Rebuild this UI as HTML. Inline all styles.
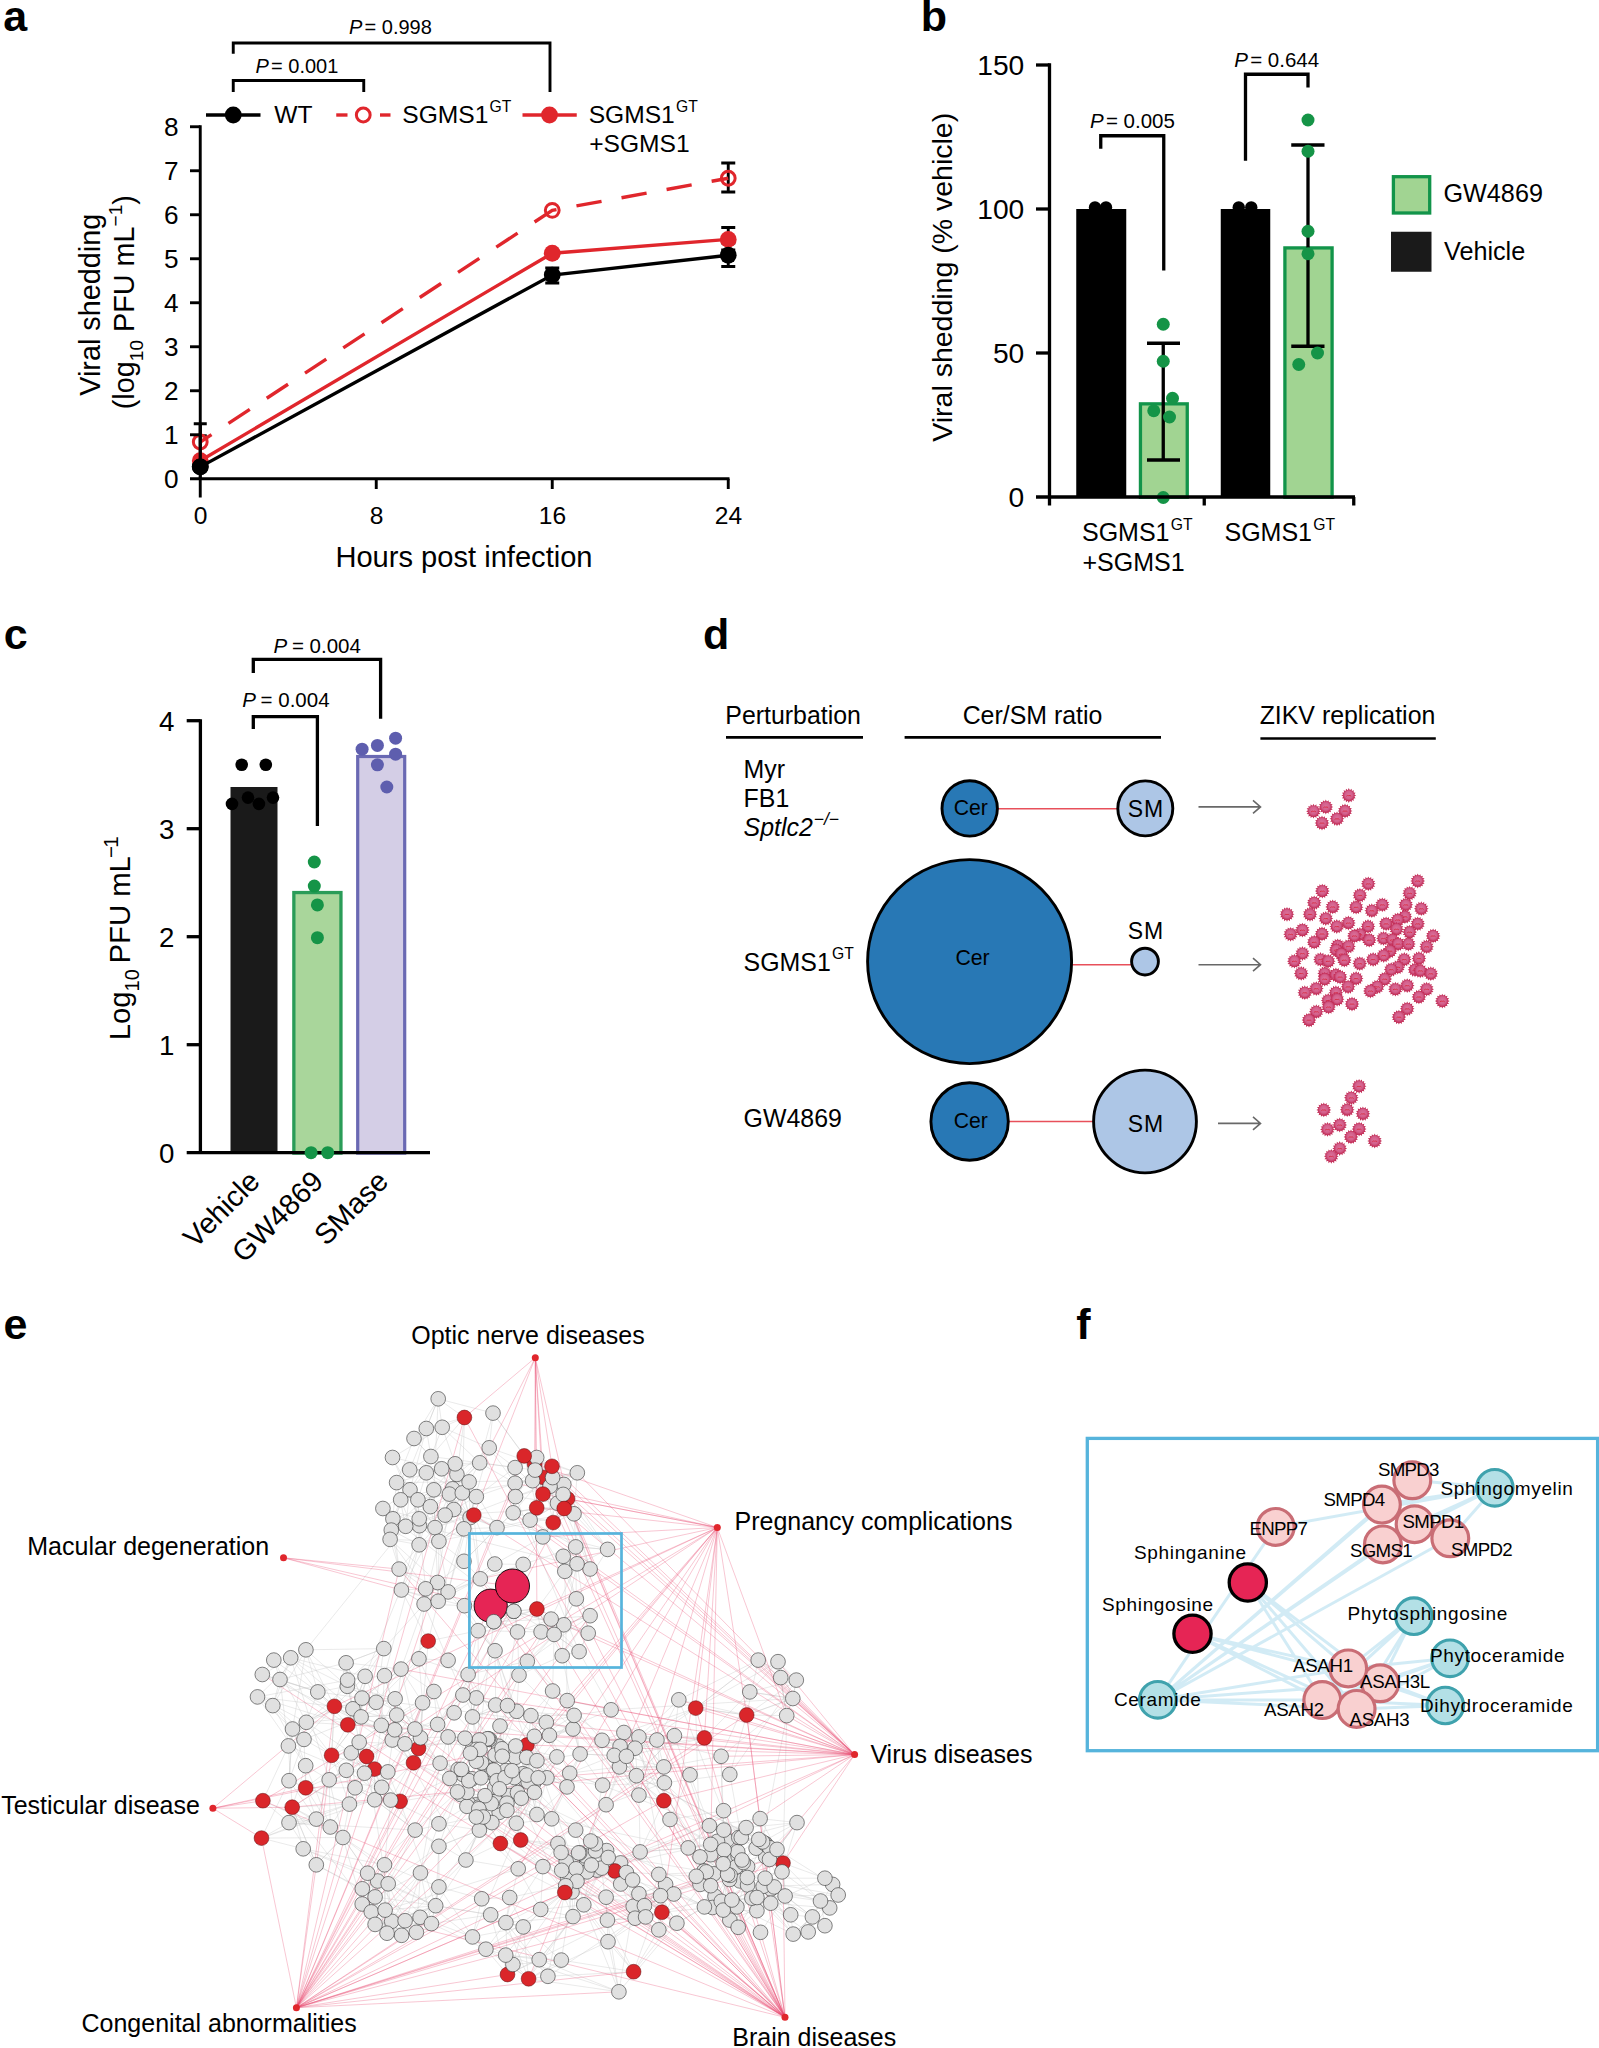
<!DOCTYPE html>
<html><head><meta charset="utf-8"><title>Figure</title>
<style>html,body{margin:0;padding:0;background:#fff}svg{display:block}text{font-family:"Liberation Sans",sans-serif}</style></head><body>
<svg width="1599" height="2048" viewBox="0 0 1599 2048">
<defs><radialGradient id="vg" cx="50%" cy="45%" r="55%"><stop offset="0" stop-color="#da729b"/><stop offset="0.58" stop-color="#d35f8b"/><stop offset="1" stop-color="#c12a54"/></radialGradient>
<g id="v"><polygon points="7.40,0.00 5.30,1.05 6.84,2.83 4.49,3.00 5.23,5.23 3.00,4.49 2.83,6.84 1.05,5.30 0.00,7.40 -1.05,5.30 -2.83,6.84 -3.00,4.49 -5.23,5.23 -4.49,3.00 -6.84,2.83 -5.30,1.05 -7.40,0.00 -5.30,-1.05 -6.84,-2.83 -4.49,-3.00 -5.23,-5.23 -3.00,-4.49 -2.83,-6.84 -1.05,-5.30 -0.00,-7.40 1.05,-5.30 2.83,-6.84 3.00,-4.49 5.23,-5.23 4.49,-3.00 6.84,-2.83 5.30,-1.05" fill="#c32d57"/><circle r="5.75" fill="url(#vg)"/><path d="M-2.4 0.7Q-1.2 -0.5 0 0.2Q1.2 -0.5 2.4 0.7" stroke="#d8283f" stroke-width="0.9" fill="none"/></g></defs>
<rect width="1599" height="2048" fill="#fff"/>
<text x="3.3" y="30.8" font-size="43" font-weight="bold">a</text>
<text x="920.8" y="30.6" font-size="43" font-weight="bold">b</text>
<text x="3.8" y="648.8" font-size="43" font-weight="bold">c</text>
<text x="703" y="648.6" font-size="43" font-weight="bold">d</text>
<text x="3.5" y="1339.3" font-size="43" font-weight="bold">e</text>
<text x="1076.3" y="1338.9" font-size="43" font-weight="bold">f</text>
<g id="pa">
<path d="M721.25 163H735.25M721.25 192H735.25M728.25 163V192" stroke="#000" stroke-width="2.9" fill="none" />
<path d="M721.25 227.5H735.25M721.25 250H735.25M728.25 227.5V250" stroke="#000" stroke-width="2.9" fill="none" />
<path d="M721.25 243H735.25M721.25 266.5H735.25M728.25 243V266.5" stroke="#000" stroke-width="2.9" fill="none" />
<path d="M545.25 268H559.25M545.25 283H559.25M552.25 268V283" stroke="#000" stroke-width="2.9" fill="none" />
<path d="M193.75 423.75H206.75M193.75 470H206.75M200.25 423.75V470" stroke="#000" stroke-width="2.9" fill="none" />
<line x1="193.75" y1="435.75" x2="206.75" y2="435.75" stroke="#000" stroke-width="2.9" />
<path d="M200.25 442.01 L552.25 210.35 L728.25 178.23" stroke="#e0262c" stroke-width="3.4" fill="none" stroke-dasharray="25.5 20.3" stroke-dashoffset="12"/>
<path d="M200.25 460.71 L552.25 253.25 L728.25 239.39" stroke="#e0262c" stroke-width="3.4" fill="none" />
<circle cx="200.25" cy="442.01" r="6.9" fill="none" stroke="#e0262c" stroke-width="3.0" />
<circle cx="552.25" cy="210.35000000000002" r="6.9" fill="none" stroke="#e0262c" stroke-width="3.0" />
<circle cx="728.25" cy="178.23000000000002" r="6.9" fill="none" stroke="#e0262c" stroke-width="3.0" />
<circle cx="200.25" cy="460.71" r="8.4" fill="#e0262c" stroke="none" stroke-width="0" />
<circle cx="552.25" cy="253.25" r="8.4" fill="#e0262c" stroke="none" stroke-width="0" />
<circle cx="728.25" cy="239.39" r="8.4" fill="#e0262c" stroke="none" stroke-width="0" />
<line x1="200.25" y1="423.75" x2="200.25" y2="478" stroke="#000" stroke-width="2.9" />
<path d="M200.25 466.87 L552.25 275.03 L728.25 255.23" stroke="#000" stroke-width="3.4" fill="none" />
<circle cx="200.25" cy="466.87" r="8.4" fill="#000" stroke="none" stroke-width="0" />
<circle cx="552.25" cy="275.03" r="8.4" fill="#000" stroke="none" stroke-width="0" />
<circle cx="728.25" cy="255.23" r="8.4" fill="#000" stroke="none" stroke-width="0" />
<path d="M200.25 125.3V497.5M190 478.75H729.5" stroke="#000" stroke-width="2.9" fill="none" />
<line x1="190" y1="434.75" x2="200.25" y2="434.75" stroke="#000" stroke-width="2.9" />
<text x="178.6" y="444.15" font-size="26.2" text-anchor="end" fill="#000" >1</text>
<line x1="190" y1="390.75" x2="200.25" y2="390.75" stroke="#000" stroke-width="2.9" />
<text x="178.6" y="400.15" font-size="26.2" text-anchor="end" fill="#000" >2</text>
<line x1="190" y1="346.75" x2="200.25" y2="346.75" stroke="#000" stroke-width="2.9" />
<text x="178.6" y="356.15" font-size="26.2" text-anchor="end" fill="#000" >3</text>
<line x1="190" y1="302.75" x2="200.25" y2="302.75" stroke="#000" stroke-width="2.9" />
<text x="178.6" y="312.15" font-size="26.2" text-anchor="end" fill="#000" >4</text>
<line x1="190" y1="258.75" x2="200.25" y2="258.75" stroke="#000" stroke-width="2.9" />
<text x="178.6" y="268.15" font-size="26.2" text-anchor="end" fill="#000" >5</text>
<line x1="190" y1="214.75" x2="200.25" y2="214.75" stroke="#000" stroke-width="2.9" />
<text x="178.6" y="224.15" font-size="26.2" text-anchor="end" fill="#000" >6</text>
<line x1="190" y1="170.75" x2="200.25" y2="170.75" stroke="#000" stroke-width="2.9" />
<text x="178.6" y="180.15" font-size="26.2" text-anchor="end" fill="#000" >7</text>
<line x1="190" y1="126.75" x2="200.25" y2="126.75" stroke="#000" stroke-width="2.9" />
<text x="178.6" y="136.15" font-size="26.2" text-anchor="end" fill="#000" >8</text>
<text x="178.6" y="488.15" font-size="26.2" text-anchor="end" fill="#000" >0</text>
<line x1="376.25" y1="478.75" x2="376.25" y2="489" stroke="#000" stroke-width="2.9" />
<line x1="552.25" y1="478.75" x2="552.25" y2="489" stroke="#000" stroke-width="2.9" />
<line x1="728.25" y1="478.75" x2="728.25" y2="489" stroke="#000" stroke-width="2.9" />
<text x="200.55" y="524.2" font-size="24.6" text-anchor="middle" fill="#000" >0</text>
<text x="376.55" y="524.2" font-size="24.6" text-anchor="middle" fill="#000" >8</text>
<text x="552.55" y="524.2" font-size="24.6" text-anchor="middle" fill="#000" >16</text>
<text x="728.55" y="524.2" font-size="24.6" text-anchor="middle" fill="#000" >24</text>
<text x="464" y="566.5" font-size="29.1" text-anchor="middle" fill="#000" >Hours post infection</text>
<text transform="translate(99.8 304.8) rotate(-90)" font-size="28.8" text-anchor="middle">Viral shedding</text>
<text transform="translate(134 302.2) rotate(-90)" font-size="28.8" text-anchor="middle">(log<tspan font-size="19" dy="8.6">10</tspan><tspan dy="-8.6"> PFU mL</tspan><tspan font-size="19" dy="-12">−1</tspan><tspan dy="12">)</tspan></text>
<circle cx="200.25" cy="466.87" r="8.4" fill="#000" stroke="none" stroke-width="0" />
<line x1="206" y1="115" x2="260.5" y2="115" stroke="#000" stroke-width="3.4" />
<circle cx="233.25" cy="115" r="8.4" fill="#000" stroke="none" stroke-width="0" />
<text x="274.2" y="123.4" font-size="24.6" text-anchor="start" fill="#000" >WT</text>
<line x1="336.25" y1="115" x2="347.5" y2="115" stroke="#e0262c" stroke-width="3.4" />
<line x1="380" y1="115" x2="390.5" y2="115" stroke="#e0262c" stroke-width="3.4" />
<circle cx="363.25" cy="115" r="6.9" fill="none" stroke="#e0262c" stroke-width="3.0" />
<text x="402.3" y="123.4" font-size="24.6">SGMS1<tspan font-size="15.7" dy="-11.8" dx="1.2">GT</tspan></text>
<line x1="522.5" y1="115" x2="576.75" y2="115" stroke="#e0262c" stroke-width="3.4" />
<circle cx="549.5" cy="115" r="8.4" fill="#e0262c" stroke="none" stroke-width="0" />
<text x="588.7" y="123.4" font-size="24.6">SGMS1<tspan font-size="15.7" dy="-11.8" dx="1.2">GT</tspan></text>
<text x="589.2" y="151.6" font-size="24.6" text-anchor="start" fill="#000" >+SGMS1</text>
<path d="M233.25 53.75V43H550V92" stroke="#000" stroke-width="2.9" fill="none" />
<path d="M233.25 92V80.5H363.75V92" stroke="#000" stroke-width="2.9" fill="none" />
<text x="255.5" y="72.5" font-size="20" text-anchor="start"><tspan font-style="italic">P</tspan><tspan dx="2.2">= 0.001</tspan></text>
<text x="349" y="34.4" font-size="20" text-anchor="start"><tspan font-style="italic">P</tspan><tspan dx="2.2">= 0.998</tspan></text>
</g>
<g id="pb">
<rect x="1076.25" y="209" width="50" height="288.0" fill="#000"/>
<rect x="1220.75" y="209" width="49.5" height="288.0" fill="#000"/>
<rect x="1140.45" y="403.85" width="46.8" height="93.34999999999998" fill="#a1d492" stroke="#12944a" stroke-width="3.3"/>
<rect x="1284.9" y="247.9" width="47.2" height="249.29999999999998" fill="#a1d492" stroke="#12944a" stroke-width="3.3"/>
<circle cx="1095" cy="207.5" r="6.2" fill="#000" stroke="none" stroke-width="0" />
<circle cx="1106" cy="207.5" r="6.2" fill="#000" stroke="none" stroke-width="0" />
<circle cx="1238.75" cy="207.5" r="6.2" fill="#000" stroke="none" stroke-width="0" />
<circle cx="1251.25" cy="207.5" r="6.2" fill="#000" stroke="none" stroke-width="0" />
<path d="M1147 343.25H1180M1147 460H1180M1163.25 343.25V460" stroke="#000" stroke-width="3.3" fill="none" />
<path d="M1291.25 145H1324.5M1291.25 346.25H1324.5M1308 145V346.25" stroke="#000" stroke-width="3.3" fill="none" />
<circle cx="1163.25" cy="324.25" r="6.5" fill="#159447" stroke="none" stroke-width="0" />
<circle cx="1163.25" cy="361.25" r="6.5" fill="#159447" stroke="none" stroke-width="0" />
<circle cx="1172.5" cy="398.25" r="6.5" fill="#159447" stroke="none" stroke-width="0" />
<circle cx="1153.75" cy="410.75" r="6.5" fill="#159447" stroke="none" stroke-width="0" />
<circle cx="1169.5" cy="417" r="6.5" fill="#159447" stroke="none" stroke-width="0" />
<circle cx="1163.25" cy="497.5" r="6.5" fill="#159447" stroke="none" stroke-width="0" />
<circle cx="1308" cy="120" r="6.5" fill="#159447" stroke="none" stroke-width="0" />
<circle cx="1308" cy="151.25" r="6.5" fill="#159447" stroke="none" stroke-width="0" />
<circle cx="1308" cy="231.25" r="6.5" fill="#159447" stroke="none" stroke-width="0" />
<circle cx="1308" cy="253.75" r="6.5" fill="#159447" stroke="none" stroke-width="0" />
<circle cx="1317.5" cy="353" r="6.5" fill="#159447" stroke="none" stroke-width="0" />
<circle cx="1298.75" cy="364.5" r="6.5" fill="#159447" stroke="none" stroke-width="0" />
<path d="M1049.5 63.25V505.5M1036 497.0H1355" stroke="#000" stroke-width="3.3" fill="none" />
<line x1="1036" y1="353.0" x2="1049.5" y2="353.0" stroke="#000" stroke-width="3.3" />
<line x1="1036" y1="209.0" x2="1049.5" y2="209.0" stroke="#000" stroke-width="3.3" />
<line x1="1036" y1="65.0" x2="1049.5" y2="65.0" stroke="#000" stroke-width="3.3" />
<line x1="1204.25" y1="497.0" x2="1204.25" y2="505.5" stroke="#000" stroke-width="3.3" />
<line x1="1353.75" y1="497.0" x2="1353.75" y2="505.5" stroke="#000" stroke-width="3.3" />
<text x="1024.3" y="507.3" font-size="28.2" text-anchor="end" fill="#000" >0</text>
<text x="1024.3" y="363.3" font-size="28.2" text-anchor="end" fill="#000" >50</text>
<text x="1024.3" y="219.3" font-size="28.2" text-anchor="end" fill="#000" >100</text>
<text x="1024.3" y="75.3" font-size="28.2" text-anchor="end" fill="#000" >150</text>
<text transform="translate(952.3 277.3) rotate(-90)" font-size="28.5" text-anchor="middle">Viral shedding (% vehicle)</text>
<text x="1082" y="541.4" font-size="25">SGMS1<tspan font-size="15.7" dy="-11.8" dx="1.2">GT</tspan></text>
<text x="1082.5" y="571.4" font-size="25" text-anchor="start" fill="#000" >+SGMS1</text>
<text x="1224.5" y="541.4" font-size="25">SGMS1<tspan font-size="15.7" dy="-11.8" dx="1.2">GT</tspan></text>
<path d="M1100.75 148.75V135.75H1163.75V270.5" stroke="#000" stroke-width="3.3" fill="none" />
<path d="M1245.5 160.75V74.25H1308V87.5" stroke="#000" stroke-width="3.3" fill="none" />
<text x="1090" y="127.5" font-size="20.5" text-anchor="start"><tspan font-style="italic">P</tspan><tspan dx="2.2">= 0.005</tspan></text>
<text x="1234.25" y="67" font-size="20.5" text-anchor="start"><tspan font-style="italic">P</tspan><tspan dx="2.2">= 0.644</tspan></text>
<rect x="1393.4" y="176.7" width="36.3" height="36.3" fill="#a1d492" stroke="#12944a" stroke-width="3.3"/>
<rect x="1391" y="231.75" width="40.5" height="40" fill="#1a1a1a"/>
<text x="1443.5" y="202" font-size="25.2" text-anchor="start" fill="#000" >GW4869</text>
<text x="1444" y="260" font-size="25.2" text-anchor="start" fill="#000" >Vehicle</text>
</g>
<g id="pc">
<rect x="230.5" y="787" width="47" height="365.70000000000005" fill="#1a1a1a"/>
<rect x="293.85" y="892.55" width="47.1" height="260.55000000000007" fill="#a9d69b" stroke="#2a9c58" stroke-width="3.3"/>
<rect x="357.7" y="756.5" width="47" height="396.6" fill="#d4cee6" stroke="#6a69b3" stroke-width="3.2"/>
<path d="M200.4 719.2V1152.7M186.7 1152.7H430" stroke="#000" stroke-width="3.3" fill="none" />
<line x1="186.7" y1="1044.7" x2="200.4" y2="1044.7" stroke="#000" stroke-width="3.3" />
<line x1="186.7" y1="936.7" x2="200.4" y2="936.7" stroke="#000" stroke-width="3.3" />
<line x1="186.7" y1="828.7" x2="200.4" y2="828.7" stroke="#000" stroke-width="3.3" />
<line x1="186.7" y1="720.7" x2="200.4" y2="720.7" stroke="#000" stroke-width="3.3" />
<text x="174.3" y="1163.3" font-size="27.7" text-anchor="end" fill="#000" >0</text>
<text x="174.3" y="1055.3" font-size="27.7" text-anchor="end" fill="#000" >1</text>
<text x="174.3" y="947.3000000000001" font-size="27.7" text-anchor="end" fill="#000" >2</text>
<text x="174.3" y="839.3000000000001" font-size="27.7" text-anchor="end" fill="#000" >3</text>
<text x="174.3" y="731.3000000000001" font-size="27.7" text-anchor="end" fill="#000" >4</text>
<circle cx="241.7" cy="764.8" r="6.3" fill="#000" stroke="none" stroke-width="0" />
<circle cx="265.8" cy="764.8" r="6.3" fill="#000" stroke="none" stroke-width="0" />
<circle cx="232" cy="803.9" r="6.3" fill="#000" stroke="none" stroke-width="0" />
<circle cx="248" cy="797.6" r="6.3" fill="#000" stroke="none" stroke-width="0" />
<circle cx="258.9" cy="803.9" r="6.3" fill="#000" stroke="none" stroke-width="0" />
<circle cx="273" cy="797.6" r="6.3" fill="#000" stroke="none" stroke-width="0" />
<circle cx="314.3" cy="862" r="6.5" fill="#159447" stroke="none" stroke-width="0" />
<circle cx="314.3" cy="886.1" r="6.5" fill="#159447" stroke="none" stroke-width="0" />
<circle cx="317.4" cy="904.9" r="6.5" fill="#159447" stroke="none" stroke-width="0" />
<circle cx="317.4" cy="937.7" r="6.5" fill="#159447" stroke="none" stroke-width="0" />
<circle cx="311.1" cy="1152.7" r="6.5" fill="#159447" stroke="none" stroke-width="0" />
<circle cx="327.7" cy="1152.7" r="6.5" fill="#159447" stroke="none" stroke-width="0" />
<circle cx="395.6" cy="738.2" r="6.5" fill="#5e5eae" stroke="none" stroke-width="0" />
<circle cx="377.4" cy="745.4" r="6.5" fill="#5e5eae" stroke="none" stroke-width="0" />
<circle cx="362.1" cy="749.2" r="6.5" fill="#5e5eae" stroke="none" stroke-width="0" />
<circle cx="395.6" cy="754.2" r="6.5" fill="#5e5eae" stroke="none" stroke-width="0" />
<circle cx="377.4" cy="764.8" r="6.5" fill="#5e5eae" stroke="none" stroke-width="0" />
<circle cx="386.8" cy="787" r="6.5" fill="#5e5eae" stroke="none" stroke-width="0" />
<path d="M253.3 729.1V716.6H317.4V826" stroke="#000" stroke-width="3.3" fill="none" />
<path d="M253.3 672.9V659.4H380.6V718.8" stroke="#000" stroke-width="3.3" fill="none" />
<text x="242.3" y="707.3" font-size="20.5" text-anchor="start"><tspan font-style="italic">P</tspan><tspan dx="4.6">= 0.004</tspan></text>
<text x="273.6" y="652.5" font-size="20.5" text-anchor="start"><tspan font-style="italic">P</tspan><tspan dx="4.6">= 0.004</tspan></text>
<text transform="translate(130.3 938.3) rotate(-90)" font-size="29.3" text-anchor="middle">Log<tspan font-size="20" dy="8.5">10</tspan><tspan dy="-8.5" dx="-2.5"> PFU mL</tspan><tspan font-size="20.5" dy="-12.2" dx="-1.8">−</tspan><tspan font-size="20.5" dx="-1.8">1</tspan></text>
<text transform="translate(261.5 1183) rotate(-45)" font-size="29" text-anchor="end">Vehicle</text>
<text transform="translate(325 1183) rotate(-45)" font-size="29" text-anchor="end">GW4869</text>
<text transform="translate(390 1183) rotate(-45)" font-size="29" text-anchor="end">SMase</text>
</g>
<g id="pd">
<text x="725.3" y="723.8" font-size="24.9" text-anchor="start" fill="#000" >Perturbation</text>
<text x="1032.5" y="723.8" font-size="24.9" text-anchor="middle" fill="#000" >Cer/SM ratio</text>
<text x="1347.5" y="723.8" font-size="24.9" text-anchor="middle" fill="#000" >ZIKV replication</text>
<line x1="726" y1="737.4" x2="863" y2="737.4" stroke="#000" stroke-width="2.6" />
<line x1="904.6" y1="737.4" x2="1161" y2="737.4" stroke="#000" stroke-width="2.6" />
<line x1="1260.4" y1="738.5" x2="1435.8" y2="738.5" stroke="#000" stroke-width="2.6" />
<text x="743.6" y="778" font-size="24.9" text-anchor="start" fill="#000" >Myr</text>
<text x="743.6" y="807" font-size="24.9" text-anchor="start" fill="#000" >FB1</text>
<text x="743.6" y="836" font-size="24.9" font-style="italic">Sptlc2<tspan font-size="17.5" dy="-11.5" dx="1">−/−</tspan></text>
<text x="743.6" y="971" font-size="24.9">SGMS1<tspan font-size="15.7" dy="-11.8" dx="1.2">GT</tspan></text>
<text x="743.6" y="1127" font-size="24.9" text-anchor="start" fill="#000" >GW4869</text>
<line x1="969.6" y1="808.8" x2="1145" y2="808.8" stroke="#e8505a" stroke-width="1.5" />
<line x1="969.6" y1="964.7" x2="1145" y2="964.7" stroke="#e8505a" stroke-width="1.5" />
<line x1="969.6" y1="1121.5" x2="1145" y2="1121.5" stroke="#e8505a" stroke-width="1.5" />
<circle cx="969.7" cy="808.4" r="27.7" fill="#2878b5" stroke="#000" stroke-width="2.9" />
<circle cx="1145.3" cy="808.4" r="27.5" fill="#adc6e6" stroke="#000" stroke-width="2.9" />
<circle cx="969.6" cy="961.6" r="102.0" fill="#2878b5" stroke="#000" stroke-width="2.9" />
<circle cx="1145" cy="961.6" r="13.4" fill="#adc6e6" stroke="#000" stroke-width="2.9" />
<circle cx="969.6" cy="1121.5" r="38.7" fill="#2878b5" stroke="#000" stroke-width="2.9" />
<circle cx="1145" cy="1121.5" r="51.4" fill="#adc6e6" stroke="#000" stroke-width="2.9" />
<text x="970.7" y="815" font-size="21.2" text-anchor="middle" fill="#000" >Cer</text>
<text x="1145.8" y="816.8" font-size="23" text-anchor="middle" fill="#000" letter-spacing="0.8">SM</text>
<text x="972.5" y="964.8" font-size="21.2" text-anchor="middle" fill="#000" >Cer</text>
<text x="1145.8" y="938.7" font-size="23" text-anchor="middle" fill="#000" letter-spacing="0.8">SM</text>
<text x="970.7" y="1127.6" font-size="21.2" text-anchor="middle" fill="#000" >Cer</text>
<text x="1145.8" y="1131.8" font-size="23" text-anchor="middle" fill="#000" letter-spacing="0.8">SM</text>
<path d="M1198.5 806.9H1260M1253 800.4L1260.5 806.9L1253 813.4" stroke="#686868" stroke-width="1.6" fill="none" />
<path d="M1198.5 964.7H1260M1253 958.2L1260.5 964.7L1253 971.2" stroke="#686868" stroke-width="1.6" fill="none" />
<path d="M1218 1123.4H1260M1253 1116.9L1260.5 1123.4L1253 1129.9" stroke="#686868" stroke-width="1.6" fill="none" />
<use href="#v" x="1348.8" y="795.5"/>
<use href="#v" x="1325.8" y="807.0"/>
<use href="#v" x="1313.5" y="811.2"/>
<use href="#v" x="1345.0" y="811.0"/>
<use href="#v" x="1337.0" y="818.8"/>
<use href="#v" x="1322.0" y="823.0"/>
<use href="#v" x="1417.7" y="881.0"/>
<use href="#v" x="1368.3" y="883.8"/>
<use href="#v" x="1322.3" y="891.1"/>
<use href="#v" x="1409.6" y="893.3"/>
<use href="#v" x="1359.9" y="895.3"/>
<use href="#v" x="1314.2" y="902.8"/>
<use href="#v" x="1405.8" y="904.8"/>
<use href="#v" x="1382.3" y="904.8"/>
<use href="#v" x="1332.7" y="906.9"/>
<use href="#v" x="1356.1" y="907.2"/>
<use href="#v" x="1421.3" y="908.7"/>
<use href="#v" x="1371.8" y="910.7"/>
<use href="#v" x="1287.0" y="914.3"/>
<use href="#v" x="1310.0" y="914.3"/>
<use href="#v" x="1404.9" y="916.7"/>
<use href="#v" x="1325.8" y="918.5"/>
<use href="#v" x="1397.7" y="919.9"/>
<use href="#v" x="1348.4" y="923.0"/>
<use href="#v" x="1386.1" y="923.8"/>
<use href="#v" x="1417.7" y="923.8"/>
<use href="#v" x="1336.8" y="926.5"/>
<use href="#v" x="1368.0" y="926.5"/>
<use href="#v" x="1396.5" y="929.2"/>
<use href="#v" x="1302.4" y="930.1"/>
<use href="#v" x="1409.6" y="932.1"/>
<use href="#v" x="1290.6" y="934.3"/>
<use href="#v" x="1322.0" y="933.9"/>
<use href="#v" x="1359.9" y="934.5"/>
<use href="#v" x="1354.4" y="935.9"/>
<use href="#v" x="1433.1" y="935.9"/>
<use href="#v" x="1383.5" y="938.4"/>
<use href="#v" x="1369.2" y="940.1"/>
<use href="#v" x="1392.4" y="939.9"/>
<use href="#v" x="1314.2" y="942.2"/>
<use href="#v" x="1398.1" y="944.0"/>
<use href="#v" x="1408.4" y="944.0"/>
<use href="#v" x="1337.7" y="945.8"/>
<use href="#v" x="1348.4" y="946.4"/>
<use href="#v" x="1426.6" y="946.7"/>
<use href="#v" x="1336.2" y="950.0"/>
<use href="#v" x="1390.0" y="951.1"/>
<use href="#v" x="1302.4" y="953.5"/>
<use href="#v" x="1341.3" y="954.1"/>
<use href="#v" x="1383.7" y="955.5"/>
<use href="#v" x="1404.3" y="959.5"/>
<use href="#v" x="1373.1" y="959.5"/>
<use href="#v" x="1320.5" y="959.5"/>
<use href="#v" x="1328.2" y="961.2"/>
<use href="#v" x="1344.3" y="960.1"/>
<use href="#v" x="1418.9" y="958.5"/>
<use href="#v" x="1294.4" y="961.2"/>
<use href="#v" x="1359.7" y="963.6"/>
<use href="#v" x="1397.7" y="967.2"/>
<use href="#v" x="1391.2" y="969.6"/>
<use href="#v" x="1415.0" y="969.8"/>
<use href="#v" x="1420.3" y="970.8"/>
<use href="#v" x="1324.7" y="973.4"/>
<use href="#v" x="1301.2" y="973.4"/>
<use href="#v" x="1430.8" y="973.7"/>
<use href="#v" x="1335.9" y="974.9"/>
<use href="#v" x="1340.1" y="977.0"/>
<use href="#v" x="1324.7" y="979.1"/>
<use href="#v" x="1356.1" y="978.5"/>
<use href="#v" x="1384.7" y="979.1"/>
<use href="#v" x="1348.1" y="986.8"/>
<use href="#v" x="1377.3" y="986.8"/>
<use href="#v" x="1370.4" y="991.0"/>
<use href="#v" x="1407.2" y="985.6"/>
<use href="#v" x="1395.4" y="989.2"/>
<use href="#v" x="1316.3" y="988.6"/>
<use href="#v" x="1426.6" y="989.2"/>
<use href="#v" x="1304.8" y="992.7"/>
<use href="#v" x="1335.9" y="992.7"/>
<use href="#v" x="1418.9" y="996.9"/>
<use href="#v" x="1328.2" y="1000.5"/>
<use href="#v" x="1337.1" y="999.3"/>
<use href="#v" x="1442.3" y="1001.1"/>
<use href="#v" x="1352.0" y="1004.0"/>
<use href="#v" x="1328.6" y="1007.0"/>
<use href="#v" x="1407.2" y="1008.8"/>
<use href="#v" x="1316.3" y="1011.7"/>
<use href="#v" x="1398.9" y="1017.1"/>
<use href="#v" x="1309.0" y="1020.1"/>
<use href="#v" x="1359.1" y="1086.3"/>
<use href="#v" x="1351.3" y="1097.8"/>
<use href="#v" x="1323.8" y="1109.9"/>
<use href="#v" x="1347.2" y="1109.7"/>
<use href="#v" x="1362.9" y="1113.8"/>
<use href="#v" x="1339.7" y="1125.0"/>
<use href="#v" x="1327.5" y="1129.4"/>
<use href="#v" x="1359.1" y="1129.1"/>
<use href="#v" x="1351.0" y="1136.9"/>
<use href="#v" x="1374.7" y="1141.0"/>
<use href="#v" x="1339.7" y="1148.5"/>
<use href="#v" x="1331.3" y="1156.3"/>
</g>
<g id="pe">
<path d="M438.2 1398.8L493.0 1413.1M438.2 1398.8L409.7 1469.8M438.2 1398.8L426.3 1428.5M438.2 1398.8L433.8 1489.8M493.0 1413.1L535.1 1470.1M493.0 1413.1L489.2 1447.8M426.3 1428.5L442.2 1427.3M426.3 1428.5L430.9 1456.5M426.3 1428.5L410.0 1489.8M442.2 1427.3L438.2 1398.8M442.2 1427.3L392.5 1457.5M442.2 1427.3L464.4 1417.5M414.0 1438.5L438.2 1398.8M414.0 1438.5L430.9 1456.5M489.2 1447.8L515.1 1467.6M489.2 1447.8L456.9 1474.4M489.2 1447.8L452.6 1488.8M489.2 1447.8L515.1 1483.2M489.2 1447.8L442.2 1427.3M489.2 1447.8L448.1 1591.9M392.5 1457.5L419.2 1518.8M392.5 1457.5L410.0 1489.8M392.5 1457.5L441.7 1468.8M430.9 1456.5L409.7 1469.8M430.9 1456.5L442.2 1427.3M430.9 1456.5L410.0 1489.8M430.9 1456.5L535.1 1470.1M479.7 1462.8L469.1 1481.9M479.7 1462.8L515.1 1467.6M479.7 1462.8L493.0 1413.1M479.7 1462.8L449.4 1494.1M479.7 1462.8L441.7 1468.8M479.7 1462.8L442.2 1427.3M455.1 1463.8L453.8 1509.5M455.1 1463.8L442.2 1427.3M455.1 1463.8L433.8 1489.8M455.1 1463.8L479.7 1462.8M455.1 1463.8L476.3 1496.6M455.1 1463.8L437.6 1582.5M409.7 1469.8L441.7 1468.8M409.7 1469.8L456.9 1474.4M441.7 1468.8L414.0 1438.5M441.7 1468.8L409.7 1469.8M441.7 1468.8L456.9 1474.4M441.7 1468.8L426.3 1472.8M426.3 1472.8L449.4 1494.1M426.3 1472.8L410.0 1489.8M426.3 1472.8L462.3 1492.9M456.9 1474.4L417.9 1499.8M456.9 1474.4L430.9 1456.5M396.6 1482.6L391.3 1530.1M396.6 1482.6L414.0 1438.5M396.6 1482.6L409.7 1469.8M396.6 1482.6L441.7 1468.8M396.6 1482.6L532.6 1480.7M469.1 1481.9L476.3 1496.6M469.1 1481.9L456.9 1474.4M469.1 1481.9L473.8 1515.1M469.1 1481.9L470.1 1517.6M469.1 1481.9L430.9 1456.5M410.0 1489.8L392.9 1518.8M410.0 1489.8L419.4 1525.7M410.0 1489.8L405.7 1526.3M410.0 1489.8L417.9 1499.8M410.0 1489.8L419.2 1518.8M433.8 1489.8L417.9 1499.8M433.8 1489.8L400.7 1499.8M433.8 1489.8L430.4 1506.6M433.8 1489.8L435.0 1527.6M433.8 1489.8L419.2 1518.8M433.8 1489.8L452.6 1488.8M433.8 1489.8L438.2 1601.3M452.6 1488.8L470.1 1517.6M452.6 1488.8L479.7 1462.8M452.6 1488.8L456.9 1474.4M452.6 1488.8L430.9 1456.5M452.6 1488.8L476.3 1496.6M449.4 1494.1L456.9 1474.4M449.4 1494.1L417.9 1499.8M449.4 1494.1L441.7 1468.8M449.4 1494.1L470.1 1517.6M462.3 1492.9L430.4 1506.6M462.3 1492.9L470.1 1517.6M462.3 1492.9L453.8 1509.5M462.3 1492.9L469.1 1481.9M462.3 1492.9L577.3 1472.8M476.3 1496.6L462.3 1492.9M476.3 1496.6L515.1 1483.2M476.3 1496.6L453.8 1509.5M400.7 1499.8L392.9 1518.8M400.7 1499.8L390.1 1539.4M417.9 1499.8L445.1 1515.1M417.9 1499.8L419.2 1518.8M417.9 1499.8L430.4 1506.6M417.9 1499.8L426.3 1472.8M417.9 1499.8L435.0 1527.6M417.9 1499.8L449.4 1494.1M430.4 1506.6L426.3 1472.8M430.4 1506.6L419.1 1544.8M430.4 1506.6L392.9 1518.8M430.4 1506.6L449.4 1494.1M430.4 1506.6L419.2 1518.8M430.4 1506.6L453.8 1509.5M382.9 1508.5L410.0 1489.8M382.9 1508.5L391.3 1530.1M453.8 1509.5L473.8 1515.1M453.8 1509.5L462.3 1492.9M453.8 1509.5L433.8 1489.8M453.8 1509.5L435.0 1527.6M453.8 1509.5L445.1 1515.1M453.8 1509.5L607.6 1549.4M445.1 1515.1L405.7 1526.3M445.1 1515.1L449.4 1494.1M445.1 1515.1L462.3 1492.9M392.9 1518.8L419.4 1525.7M392.9 1518.8L435.0 1527.6M392.9 1518.8L513.8 1611.3M419.2 1518.8L410.0 1489.8M419.2 1518.8L382.9 1508.5M419.2 1518.8L435.0 1527.6M419.2 1518.8L405.7 1526.3M405.7 1526.3L396.6 1482.6M405.7 1526.3L453.8 1509.5M405.7 1526.3L435.0 1527.6M405.7 1526.3L392.9 1518.8M405.7 1526.3L391.3 1530.1M405.7 1526.3L305.9 1649.8M419.4 1525.7L382.9 1508.5M419.4 1525.7L438.9 1541.3M419.4 1525.7L419.2 1518.8M419.4 1525.7L419.1 1544.8M435.0 1527.6L449.4 1494.1M435.0 1527.6L430.4 1506.6M435.0 1527.6L438.9 1541.3M435.0 1527.6L433.8 1489.8M435.0 1527.6L405.7 1526.3M435.0 1527.6L391.3 1530.1M391.3 1530.1L399.1 1569.1M391.3 1530.1L433.8 1489.8M463.8 1528.8L430.4 1506.6M463.8 1528.8L497.0 1527.6M463.8 1528.8L449.4 1494.1M470.1 1517.6L497.0 1527.6M470.1 1517.6L449.4 1494.1M470.1 1517.6L430.4 1506.6M470.1 1517.6L438.9 1541.3M470.1 1517.6L456.9 1474.4M470.1 1517.6L476.3 1496.6M497.0 1527.6L453.8 1509.5M497.0 1527.6L513.2 1512.8M497.0 1527.6L469.1 1481.9M497.0 1527.6L464.0 1561.3M497.0 1527.6L530.1 1520.1M515.1 1467.6L543.0 1494.1M515.1 1467.6L513.2 1512.8M515.1 1467.6L476.3 1496.6M515.1 1483.2L532.6 1480.7M515.1 1483.2L513.2 1512.8M515.1 1483.2L535.1 1470.1M515.1 1483.2L479.7 1462.8M515.5 1496.6L515.1 1467.6M515.5 1496.6L557.5 1503.2M515.5 1496.6L515.1 1483.2M515.5 1496.6L535.1 1470.1M513.2 1512.8L497.0 1527.6M513.2 1512.8L536.7 1507.8M513.2 1512.8L515.1 1467.6M513.2 1512.8L543.2 1477.3M530.1 1520.1L543.2 1477.3M530.1 1520.1L543.0 1494.1M530.1 1520.1L567.5 1498.8M536.7 1457.5L524.2 1455.9M536.7 1457.5L577.3 1472.8M536.7 1457.5L563.2 1494.4M536.7 1457.5L515.1 1467.6M532.6 1480.7L550.0 1486.3M532.6 1480.7L567.5 1498.8M552.6 1477.6L535.1 1470.1M552.6 1477.6L536.7 1507.8M535.1 1470.1L557.5 1503.2M535.1 1470.1L563.8 1484.4M535.1 1470.1L552.0 1466.3M390.1 1539.4L391.3 1530.1M390.1 1539.4L425.7 1588.8M390.1 1539.4L419.1 1544.8M419.1 1544.8L417.9 1499.8M419.1 1544.8L391.3 1530.1M419.1 1544.8L400.7 1499.8M419.1 1544.8L384.5 1675.7M438.9 1541.3L390.1 1539.4M438.9 1541.3L453.8 1509.5M438.9 1541.3L470.1 1517.6M438.9 1541.3L463.8 1528.8M399.1 1569.1L390.1 1539.4M399.1 1569.1L392.9 1518.8M399.1 1569.1L435.0 1527.6M401.4 1590.0L464.4 1605.7M401.4 1590.0L435.0 1527.6M401.4 1590.0L438.2 1601.3M401.4 1590.0L428.2 1641.1M401.4 1590.0L424.1 1604.0M401.4 1590.0L419.4 1525.7M425.7 1588.8L399.1 1569.1M425.7 1588.8L437.6 1582.5M425.7 1588.8L401.4 1590.0M425.7 1588.8L438.2 1601.3M425.7 1588.8L419.4 1525.7M437.6 1582.5L390.1 1539.4M437.6 1582.5L448.1 1591.9M424.1 1604.0L401.0 1669.1M424.1 1604.0L438.9 1541.3M424.1 1604.0L401.4 1590.0M424.1 1604.0L480.3 1578.8M424.1 1604.0L418.9 1658.8M424.1 1604.0L438.2 1601.3M438.2 1601.3L424.1 1604.0M438.2 1601.3L437.6 1582.5M438.2 1601.3L438.9 1541.3M438.2 1601.3L480.3 1578.8M438.2 1601.3L476.3 1496.6M383.8 1648.6L376.1 1702.3M383.8 1648.6L352.9 1708.8M383.8 1648.6L347.6 1680.1M383.8 1648.6L424.1 1604.0M383.8 1648.6L346.1 1662.8M305.9 1649.8L383.8 1648.6M305.9 1649.8L292.5 1729.0M305.9 1649.8L347.3 1686.3M305.9 1649.8L257.5 1696.9M305.9 1649.8L334.4 1706.3M305.9 1649.8L317.8 1691.9M290.7 1657.8L352.9 1708.8M290.7 1657.8L317.8 1691.9M290.7 1657.8L365.1 1676.3M290.7 1657.8L448.1 1736.9M273.8 1660.1L280.0 1679.5M273.8 1660.1L306.3 1722.3M273.8 1660.1L317.8 1691.9M273.8 1660.1L262.3 1674.5M346.1 1662.8L362.0 1698.1M346.1 1662.8L383.8 1648.6M346.1 1662.8L401.0 1669.1M346.1 1662.8L347.3 1686.3M418.9 1658.8L376.1 1702.3M418.9 1658.8L395.1 1698.8M418.9 1658.8L433.9 1691.5M401.0 1669.1L428.2 1641.1M401.0 1669.1L422.6 1702.8M401.0 1669.1L414.9 1729.0M401.0 1669.1L362.0 1698.1M401.0 1669.1L433.9 1691.5M365.1 1676.3L361.1 1716.9M365.1 1676.3L396.7 1715.0M365.1 1676.3L383.8 1648.6M365.1 1676.3L376.1 1702.3M365.1 1676.3L347.8 1724.8M365.1 1676.3L419.1 1544.8M384.5 1675.7L396.7 1715.0M384.5 1675.7L381.3 1725.3M262.3 1674.5L317.8 1691.9M262.3 1674.5L305.9 1649.8M280.0 1679.5L347.8 1724.8M280.0 1679.5L290.7 1657.8M280.0 1679.5L272.8 1705.6M280.0 1679.5L346.1 1662.8M347.6 1680.1L365.1 1676.3M347.6 1680.1L384.5 1675.7M542.8 1536.9L513.2 1512.8M542.8 1536.9L523.2 1564.4M542.8 1536.9L567.5 1498.8M575.7 1546.9L530.1 1520.1M575.7 1546.9L607.6 1549.4M575.7 1546.9L523.2 1564.4M575.7 1546.9L576.3 1598.8M607.6 1549.4L575.7 1546.9M607.6 1549.4L574.0 1513.8M607.6 1549.4L563.2 1494.4M607.6 1549.4L563.8 1484.4M607.6 1549.4L554.1 1634.4M563.2 1556.3L576.3 1598.8M563.2 1556.3L577.0 1563.8M577.0 1563.8L563.2 1556.3M577.0 1563.8L574.0 1513.8M577.0 1563.8L575.7 1546.9M590.1 1569.0L567.5 1498.8M590.1 1569.0L564.2 1508.5M590.1 1569.0L574.0 1513.8M590.1 1569.0L553.2 1522.6M590.1 1569.0L419.4 1525.7M564.8 1571.3L575.7 1546.9M564.8 1571.3L542.8 1536.9M564.8 1571.3L607.6 1549.4M564.8 1571.3L567.2 1700.6M464.0 1561.3L497.0 1527.6M464.0 1561.3L419.4 1525.7M464.0 1561.3L470.1 1517.6M464.0 1561.3L437.6 1582.5M494.8 1564.0L473.8 1515.1M494.8 1564.0L542.8 1536.9M494.8 1564.0L480.3 1578.8M523.2 1564.4L494.8 1564.0M523.2 1564.4L493.8 1621.7M480.3 1578.8L523.2 1564.4M480.3 1578.8L473.8 1515.1M480.3 1578.8L470.1 1517.6M480.3 1578.8L448.1 1591.9M480.3 1578.8L513.8 1611.3M480.3 1578.8L464.0 1561.3M448.1 1591.9L463.8 1528.8M448.1 1591.9L494.8 1564.0M448.1 1591.9L438.9 1541.3M448.1 1591.9L399.1 1569.1M448.1 1591.9L425.7 1588.8M464.4 1605.7L424.1 1604.0M464.4 1605.7L493.8 1621.7M464.4 1605.7L495.0 1650.7M464.4 1605.7L437.6 1582.5M576.3 1598.8L590.1 1615.7M576.3 1598.8L564.8 1571.3M576.3 1598.8L554.1 1634.4M513.8 1611.3L536.9 1609.0M513.8 1611.3L563.8 1624.8M590.1 1615.7L562.2 1655.7M590.1 1615.7L541.1 1631.9M590.1 1615.7L576.3 1598.8M590.1 1615.7L527.3 1661.3M551.1 1619.1L577.0 1563.8M551.1 1619.1L563.8 1624.8M551.1 1619.1L590.1 1615.7M551.1 1619.1L517.5 1631.9M563.8 1624.8L527.3 1661.3M563.8 1624.8L562.2 1655.7M563.8 1624.8L551.1 1619.1M563.8 1624.8L577.0 1563.8M563.8 1624.8L590.1 1615.7M563.8 1624.8L588.2 1633.2M493.8 1621.7L551.1 1619.1M493.8 1621.7L468.1 1674.5M493.8 1621.7L476.3 1761.3M478.1 1630.7L468.1 1674.5M478.1 1630.7L448.1 1591.9M478.1 1630.7L493.8 1621.7M478.1 1630.7L495.0 1650.7M478.1 1630.7L513.8 1611.3M478.1 1630.7L536.9 1609.0M478.1 1630.7L478.8 1808.8M517.5 1631.9L464.4 1605.7M517.5 1631.9L513.8 1611.3M541.1 1631.9L536.9 1609.0M541.1 1631.9L478.1 1630.7M541.1 1631.9L563.8 1624.8M554.1 1634.4L519.0 1675.1M554.1 1634.4L576.3 1598.8M554.1 1634.4L493.8 1621.7M554.1 1634.4L551.1 1619.1M554.1 1634.4L579.1 1651.6M554.1 1634.4L513.8 1611.3M588.2 1633.2L579.1 1651.6M588.2 1633.2L513.8 1611.3M588.2 1633.2L577.0 1563.8M495.0 1650.7L519.0 1675.1M495.0 1650.7L516.7 1711.3M495.0 1650.7L478.1 1630.7M495.0 1650.7L507.5 1705.6M495.0 1650.7L495.7 1705.0M495.0 1650.7L476.3 1697.9M579.1 1651.6L554.1 1634.4M579.1 1651.6L562.2 1655.7M579.1 1651.6L588.2 1633.2M579.1 1651.6L515.5 1496.6M562.2 1655.7L536.9 1609.0M562.2 1655.7L574.1 1715.4M527.3 1661.3L567.2 1700.6M527.3 1661.3L551.1 1619.1M448.1 1660.3L424.1 1604.0M448.1 1660.3L418.9 1658.8M468.1 1674.5L500.0 1726.0M468.1 1674.5L476.3 1697.9M468.1 1674.5L527.3 1661.3M468.1 1674.5L418.9 1658.8M468.1 1674.5L437.6 1724.4M468.1 1674.5L472.5 1716.9M519.0 1675.1L562.2 1655.7M519.0 1675.1L517.5 1631.9M758.2 1660.1L796.3 1680.1M758.2 1660.1L695.7 1708.1M758.2 1660.1L678.8 1699.8M778.0 1661.7L695.7 1708.1M778.0 1661.7L786.7 1715.6M780.7 1677.6L758.2 1660.1M780.7 1677.6L796.3 1680.1M796.3 1680.1L778.0 1661.7M796.3 1680.1L749.8 1691.9M796.3 1680.1L746.7 1715.0M796.3 1680.1L792.8 1698.5M796.3 1680.1L729.8 1774.4M563.8 1484.4L543.0 1494.1M563.8 1484.4L567.5 1498.8M563.8 1484.4L552.0 1466.3M563.8 1484.4L574.0 1513.8M563.8 1484.4L543.2 1477.3M550.0 1486.3L535.1 1470.1M550.0 1486.3L536.7 1457.5M550.0 1486.3L515.5 1496.6M550.0 1486.3L552.0 1466.3M550.0 1486.3L534.5 1463.8M550.0 1486.3L543.0 1494.1M563.2 1494.4L543.0 1494.1M563.2 1494.4L543.2 1477.3M563.2 1494.4L557.5 1503.2M563.2 1494.4L535.1 1470.1M563.2 1494.4L574.0 1513.8M563.2 1494.4L567.5 1498.8M557.5 1503.2L535.1 1470.1M557.5 1503.2L542.8 1536.9M577.3 1472.8L543.2 1477.3M577.3 1472.8L524.2 1455.9M577.3 1472.8L563.2 1494.4M577.3 1472.8L543.0 1494.1M577.3 1472.8L552.6 1477.6M577.3 1472.8L435.0 1527.6M574.0 1513.8L577.3 1472.8M574.0 1513.8L553.2 1522.6M574.0 1513.8L543.0 1494.1M574.0 1513.8L530.1 1520.1M574.0 1513.8L419.1 1544.8M257.5 1696.9L347.6 1680.1M257.5 1696.9L347.8 1724.8M257.5 1696.9L305.7 1765.7M257.5 1696.9L352.9 1708.8M272.8 1705.6L331.6 1755.3M272.8 1705.6L305.7 1765.7M272.8 1705.6L290.7 1657.8M272.8 1705.6L305.9 1649.8M272.8 1705.6L292.5 1729.0M317.8 1691.9L362.0 1698.1M317.8 1691.9L306.3 1722.3M317.8 1691.9L262.3 1674.5M317.8 1691.9L334.4 1706.3M317.8 1691.9L280.0 1679.5M347.3 1686.3L352.9 1708.8M347.3 1686.3L317.8 1691.9M347.3 1686.3L347.6 1680.1M347.3 1686.3L306.3 1722.3M347.3 1686.3L395.1 1698.8M362.0 1698.1L361.1 1716.9M362.0 1698.1L346.1 1662.8M362.0 1698.1L401.0 1669.1M362.0 1698.1L359.2 1742.2M376.1 1702.3L401.0 1669.1M376.1 1702.3L347.3 1686.3M376.1 1702.3L395.1 1698.8M376.1 1702.3L352.9 1708.8M376.1 1702.3L465.9 1860.0M395.1 1698.8L381.3 1725.3M395.1 1698.8L362.0 1698.1M395.1 1698.8L414.9 1729.0M395.1 1698.8L394.7 1729.8M433.9 1691.5L396.7 1715.0M433.9 1691.5L448.1 1736.9M433.9 1691.5L422.6 1702.8M422.6 1702.8L392.3 1740.0M422.6 1702.8L420.5 1737.8M422.6 1702.8L414.9 1729.0M422.6 1702.8L433.9 1691.5M422.6 1702.8L418.9 1658.8M352.9 1708.8L347.3 1686.3M352.9 1708.8L365.1 1676.3M352.9 1708.8L346.1 1662.8M352.9 1708.8L361.1 1716.9M352.9 1708.8L359.2 1742.2M352.9 1708.8L347.8 1724.8M352.9 1708.8L501.9 1748.8M361.1 1716.9L394.7 1729.8M361.1 1716.9L331.6 1755.3M361.1 1716.9L396.7 1715.0M361.1 1716.9L395.1 1698.8M396.7 1715.0L384.5 1675.7M396.7 1715.0L404.9 1743.8M396.7 1715.0L361.1 1716.9M396.7 1715.0L401.0 1669.1M381.3 1725.3L361.1 1716.9M381.3 1725.3L359.2 1742.2M381.3 1725.3L374.5 1769.1M381.3 1725.3L392.3 1740.0M381.3 1725.3L422.6 1702.8M394.7 1729.8L362.0 1698.1M394.7 1729.8L395.1 1698.8M394.7 1729.8L387.8 1771.9M394.7 1729.8L437.6 1724.4M394.7 1729.8L420.5 1737.8M414.9 1729.0L440.1 1763.2M414.9 1729.0L396.7 1715.0M414.9 1729.0L392.3 1740.0M414.9 1729.0L394.7 1729.8M414.9 1729.0L404.9 1743.8M414.9 1729.0L292.2 1807.2M437.6 1724.4L462.9 1695.0M437.6 1724.4L433.9 1691.5M306.3 1722.3L331.6 1755.3M306.3 1722.3L292.5 1729.0M306.3 1722.3L257.5 1696.9M306.3 1722.3L362.0 1698.1M306.3 1722.3L361.1 1716.9M306.3 1722.3L351.3 1752.9M292.5 1729.0L334.4 1706.3M292.5 1729.0L289.0 1780.7M292.5 1729.0L304.0 1739.4M292.5 1729.0L257.5 1696.9M292.5 1729.0L305.7 1765.7M304.0 1739.4L331.6 1755.3M304.0 1739.4L361.1 1716.9M304.0 1739.4L334.4 1706.3M304.0 1739.4L288.4 1745.9M288.4 1745.9L292.2 1807.2M288.4 1745.9L280.0 1679.5M288.4 1745.9L346.3 1770.3M359.2 1742.2L351.3 1752.9M359.2 1742.2L381.3 1725.3M359.2 1742.2L366.6 1756.5M359.2 1742.2L374.5 1769.1M392.3 1740.0L351.3 1752.9M392.3 1740.0L394.7 1729.8M392.3 1740.0L381.3 1725.3M392.3 1740.0L420.5 1737.8M392.3 1740.0L376.1 1702.3M404.9 1743.8L422.6 1702.8M404.9 1743.8L381.3 1725.3M404.9 1743.8L394.7 1729.8M404.9 1743.8L359.2 1742.2M404.9 1743.8L420.5 1737.8M404.9 1743.8L262.3 1674.5M420.5 1737.8L395.1 1698.8M420.5 1737.8L404.9 1743.8M351.3 1752.9L359.2 1742.2M351.3 1752.9L364.5 1773.2M305.7 1765.7L292.2 1807.2M305.7 1765.7L329.2 1779.8M346.3 1770.3L305.7 1787.8M346.3 1770.3L329.2 1779.8M346.3 1770.3L390.7 1800.1M346.3 1770.3L364.5 1773.2M346.3 1770.3L331.6 1755.3M346.3 1770.3L349.4 1804.1M364.5 1773.2L390.7 1800.1M364.5 1773.2L359.2 1742.2M364.5 1773.2L374.7 1799.8M387.8 1771.9L374.5 1769.1M387.8 1771.9L404.9 1743.8M289.0 1780.7L292.5 1729.0M289.0 1780.7L304.0 1739.4M289.0 1780.7L349.4 1804.1M289.0 1780.7L316.3 1819.1M329.2 1779.8L346.3 1770.3M329.2 1779.8L330.3 1827.0M329.2 1779.8L316.3 1819.1M329.2 1779.8L290.7 1657.8M355.1 1787.8L330.3 1827.0M355.1 1787.8L346.3 1770.3M355.1 1787.8L351.3 1752.9M355.1 1787.8L374.7 1799.8M355.1 1787.8L390.7 1800.1M381.7 1787.3L366.6 1756.5M381.7 1787.3L329.2 1779.8M381.7 1787.3L390.7 1800.1M381.7 1787.3L351.3 1752.9M349.4 1804.1L305.7 1787.8M349.4 1804.1L387.8 1771.9M349.4 1804.1L364.5 1773.2M349.4 1804.1L355.1 1787.8M349.4 1804.1L331.6 1755.3M374.7 1799.8L355.1 1787.8M374.7 1799.8L374.5 1769.1M374.7 1799.8L413.5 1762.8M374.7 1799.8L400.1 1801.3M374.7 1799.8L349.4 1804.1M374.7 1799.8L415.1 1830.1M390.7 1800.1L418.5 1748.4M390.7 1800.1L415.1 1830.1M390.7 1800.1L349.4 1804.1M316.3 1819.1L342.9 1837.5M316.3 1819.1L374.7 1799.8M316.3 1819.1L305.7 1787.8M316.3 1819.1L261.5 1838.1M289.0 1822.6L316.3 1819.1M289.0 1822.6L262.9 1800.7M289.0 1822.6L349.4 1804.1M289.0 1822.6L292.2 1807.2M289.0 1822.6L261.5 1838.1M289.0 1822.6L415.1 1830.1M330.3 1827.0L342.9 1837.5M330.3 1827.0L305.7 1765.7M330.3 1827.0L289.0 1822.6M330.3 1827.0L292.2 1807.2M330.3 1827.0L305.7 1787.8M438.9 1823.8L457.5 1791.9M438.9 1823.8L466.9 1806.3M438.9 1823.8L479.4 1830.1M438.9 1823.8L390.7 1800.1M415.1 1830.1L476.3 1817.0M415.1 1830.1L438.9 1846.3M415.1 1830.1L457.5 1791.9M415.1 1830.1L465.9 1860.0M415.1 1830.1L388.2 1883.8M415.1 1830.1L374.7 1799.8M440.1 1763.2L466.9 1792.3M440.1 1763.2L448.1 1736.9M440.1 1763.2L418.5 1748.4M440.1 1763.2L449.8 1778.4M440.1 1763.2L420.5 1872.9M552.6 1691.0L554.1 1634.4M552.6 1691.0L530.9 1715.6M552.6 1691.0L527.3 1661.3M552.6 1691.0L526.9 1745.0M567.2 1700.6L580.1 1754.0M567.2 1700.6L573.0 1729.0M567.2 1700.6L552.6 1691.0M567.2 1700.6L602.0 1740.3M462.9 1695.0L516.7 1711.3M462.9 1695.0L487.5 1738.8M462.9 1695.0L448.1 1660.3M462.9 1695.0L495.7 1705.0M476.3 1697.9L462.9 1695.0M476.3 1697.9L448.1 1660.3M476.3 1697.9L465.0 1738.2M476.3 1697.9L437.6 1724.4M476.3 1697.9L516.7 1711.3M495.7 1705.0L501.9 1748.8M495.7 1705.0L476.3 1697.9M507.5 1705.6L534.4 1736.3M507.5 1705.6L472.5 1716.9M516.7 1711.3L501.9 1748.8M516.7 1711.3L549.4 1735.3M516.7 1711.3L519.0 1675.1M516.7 1711.3L546.3 1722.3M516.7 1711.3L487.5 1738.8M516.7 1711.3L507.5 1705.6M530.9 1715.6L515.7 1746.0M530.9 1715.6L495.7 1705.0M530.9 1715.6L516.7 1711.3M530.9 1715.6L526.7 1757.3M546.3 1722.3L549.4 1735.3M546.3 1722.3L516.7 1711.3M546.3 1722.3L362.0 1698.1M574.1 1715.4L530.9 1715.6M574.1 1715.4L526.9 1745.0M574.1 1715.4L516.7 1711.3M574.1 1715.4L546.3 1722.3M574.1 1715.4L580.1 1754.0M573.0 1729.0L567.2 1700.6M573.0 1729.0L534.4 1736.3M573.0 1729.0L530.9 1715.6M573.0 1729.0L526.9 1745.0M611.1 1709.8L574.1 1715.4M611.1 1709.8L549.4 1735.3M611.1 1709.8L567.2 1700.6M611.1 1709.8L579.1 1651.6M454.1 1712.8L414.9 1729.0M454.1 1712.8L437.6 1724.4M454.1 1712.8L462.9 1695.0M472.5 1716.9L480.0 1749.4M472.5 1716.9L495.7 1705.0M472.5 1716.9L507.5 1705.6M472.5 1716.9L468.1 1674.5M472.5 1716.9L476.3 1697.9M472.5 1716.9L501.9 1748.8M500.0 1726.0L515.7 1746.0M500.0 1726.0L516.7 1711.3M448.1 1736.9L420.5 1737.8M448.1 1736.9L479.4 1740.0M448.1 1736.9L470.4 1753.2M448.1 1736.9L476.3 1749.4M448.1 1736.9L449.8 1778.4M465.0 1738.2L476.3 1697.9M465.0 1738.2L448.1 1736.9M465.0 1738.2L437.6 1724.4M479.4 1740.0L501.9 1748.8M479.4 1740.0L448.1 1736.9M479.4 1740.0L481.0 1777.8M479.4 1740.0L454.1 1712.8M479.4 1740.0L470.4 1753.2M479.4 1740.0L465.0 1738.2M487.5 1738.8L465.0 1738.2M487.5 1738.8L526.9 1745.0M487.5 1738.8L500.0 1726.0M534.4 1736.3L536.9 1760.7M534.4 1736.3L500.0 1726.0M534.4 1736.3L546.3 1722.3M534.4 1736.3L546.9 1777.8M534.4 1736.3L515.7 1746.0M534.4 1736.3L530.9 1715.6M549.4 1735.3L573.0 1729.0M549.4 1735.3L569.7 1773.2M549.4 1735.3L534.4 1736.3M549.4 1735.3L438.9 1886.9M602.0 1740.3L636.4 1775.7M602.0 1740.3L602.6 1785.1M602.0 1740.3L614.2 1755.4M623.9 1732.5L602.0 1740.3M623.9 1732.5L638.9 1736.9M623.9 1732.5L611.1 1709.8M638.9 1736.9L674.4 1735.7M638.9 1736.9L656.9 1740.0M638.9 1736.9L663.8 1766.9M638.9 1736.9L602.0 1740.3M638.9 1736.9L678.8 1699.8M638.9 1736.9L580.1 1754.0M620.1 1746.3L614.2 1755.4M620.1 1746.3L635.1 1748.2M620.1 1746.3L602.6 1785.1M620.1 1746.3L574.1 1715.4M620.1 1746.3L476.3 1697.9M635.1 1748.2L626.4 1756.3M635.1 1748.2L619.5 1766.9M635.1 1748.2L602.0 1740.3M635.1 1748.2L736.9 1906.9M515.7 1746.0L526.9 1745.0M515.7 1746.0L526.7 1775.1M515.7 1746.0L505.0 1777.6M501.9 1748.8L526.9 1745.0M501.9 1748.8L515.7 1746.0M501.9 1748.8L500.0 1726.0M501.9 1748.8L523.2 1564.4M476.3 1749.4L472.5 1716.9M476.3 1749.4L479.4 1740.0M476.3 1749.4L448.1 1736.9M476.3 1749.4L470.4 1753.2M476.3 1749.4L481.0 1777.8M476.3 1749.4L495.0 1755.0M480.0 1749.4L496.9 1780.7M480.0 1749.4L470.4 1753.2M480.0 1749.4L495.0 1755.0M470.4 1753.2L501.9 1748.8M470.4 1753.2L481.0 1777.8M470.4 1753.2L449.8 1778.4M470.4 1753.2L458.1 1769.4M495.0 1755.0L470.4 1753.2M495.0 1755.0L481.0 1777.8M495.0 1755.0L526.7 1757.3M495.0 1755.0L502.3 1756.3M502.3 1756.3L487.5 1738.8M502.3 1756.3L476.3 1749.4M502.3 1756.3L500.0 1726.0M502.3 1756.3L515.7 1746.0M526.7 1757.3L534.4 1736.3M526.7 1757.3L556.9 1756.9M526.7 1757.3L526.7 1775.1M526.7 1757.3L493.8 1770.1M526.7 1757.3L526.9 1745.0M536.9 1760.7L569.7 1773.2M536.9 1760.7L556.9 1756.9M536.9 1760.7L546.9 1777.8M536.9 1760.7L526.7 1757.3M536.9 1760.7L576.0 1868.8M556.9 1756.9L549.4 1735.3M556.9 1756.9L526.7 1775.1M556.9 1756.9L538.2 1777.8M556.9 1756.9L511.9 1770.7M556.9 1756.9L515.7 1746.0M580.1 1754.0L567.0 1786.9M580.1 1754.0L602.0 1740.3M580.1 1754.0L573.0 1729.0M580.1 1754.0L549.4 1735.3M580.1 1754.0L602.6 1785.1M580.1 1754.0L536.9 1760.7M614.2 1755.4L580.1 1754.0M614.2 1755.4L635.1 1748.2M614.2 1755.4L626.4 1756.3M626.4 1756.3L663.8 1766.9M626.4 1756.3L635.1 1748.2M626.4 1756.3L580.1 1754.0M626.4 1756.3L606.1 1804.7M626.4 1756.3L638.9 1795.1M619.5 1766.9L638.9 1795.1M619.5 1766.9L663.8 1766.9M619.5 1766.9L602.0 1740.3M476.3 1761.3L495.0 1755.0M476.3 1761.3L476.3 1749.4M476.3 1761.3L502.3 1756.3M458.1 1769.4L448.1 1736.9M458.1 1769.4L465.0 1738.2M458.1 1769.4L440.1 1763.2M458.1 1769.4L334.4 1706.3M461.3 1769.4L466.9 1806.3M461.3 1769.4L468.8 1780.7M493.8 1770.1L495.0 1755.0M493.8 1770.1L485.0 1795.7M493.8 1770.1L470.4 1753.2M493.8 1770.1L514.4 1777.6M511.9 1770.7L536.9 1760.7M511.9 1770.7L517.5 1792.6M511.9 1770.7L526.7 1757.3M511.9 1770.7L528.2 1781.9M569.7 1773.2L614.2 1755.4M569.7 1773.2L551.7 1818.8M569.7 1773.2L619.5 1766.9M569.7 1773.2L580.1 1754.0M569.7 1773.2L741.3 1837.5M636.4 1775.7L620.1 1746.3M636.4 1775.7L602.0 1740.3M636.4 1775.7L674.4 1735.7M636.4 1775.7L623.9 1732.5M636.4 1775.7L626.4 1756.3M449.8 1778.4L440.1 1763.2M449.8 1778.4L457.5 1791.9M449.8 1778.4L468.8 1780.7M449.8 1778.4L466.9 1792.3M449.8 1778.4L481.0 1777.8M468.8 1780.7L480.0 1749.4M468.8 1780.7L440.1 1763.2M468.8 1780.7L481.0 1777.8M468.8 1780.7L466.9 1792.3M468.8 1780.7L470.4 1753.2M468.8 1780.7L334.4 1706.3M481.0 1777.8L496.9 1780.7M481.0 1777.8L493.8 1770.1M481.0 1777.8L457.5 1791.9M481.0 1777.8L495.0 1755.0M481.0 1777.8L476.3 1749.4M481.0 1777.8L478.8 1808.8M481.0 1777.8L519.0 1675.1M496.9 1780.7L481.0 1777.8M496.9 1780.7L485.0 1795.7M496.9 1780.7L514.4 1777.6M496.9 1780.7L521.3 1798.2M496.9 1780.7L491.3 1803.6M496.9 1780.7L526.7 1775.1M505.0 1777.6L526.7 1775.1M505.0 1777.6L511.9 1770.7M505.0 1777.6L506.9 1803.2M514.4 1777.6L496.9 1780.7M514.4 1777.6L538.2 1777.8M514.4 1777.6L493.8 1770.1M514.4 1777.6L536.9 1760.7M526.7 1775.1L546.9 1777.8M526.7 1775.1L493.8 1770.1M526.7 1775.1L515.7 1746.0M538.2 1777.8L515.7 1746.0M538.2 1777.8L517.5 1792.6M538.2 1777.8L556.9 1756.9M538.2 1777.8L526.7 1757.3M538.2 1777.8L495.0 1650.7M546.9 1777.8L567.0 1786.9M546.9 1777.8L526.7 1757.3M546.9 1777.8L521.3 1798.2M546.9 1777.8L526.9 1745.0M546.9 1777.8L556.9 1756.9M546.9 1777.8L438.9 1886.9M567.0 1786.9L526.7 1757.3M567.0 1786.9L546.9 1777.8M602.6 1785.1L546.9 1777.8M602.6 1785.1L590.7 1841.0M602.6 1785.1L569.7 1773.2M602.6 1785.1L636.4 1775.7M457.5 1791.9L491.3 1803.6M457.5 1791.9L485.0 1795.7M457.5 1791.9L483.2 1817.0M457.5 1791.9L461.3 1769.4M457.5 1791.9L476.3 1817.0M457.5 1791.9L334.4 1706.3M466.9 1792.3L499.4 1788.8M466.9 1792.3L461.3 1769.4M466.9 1792.3L396.7 1715.0M485.0 1795.7L517.5 1792.6M485.0 1795.7L468.8 1780.7M485.0 1795.7L476.3 1817.0M485.0 1795.7L506.9 1803.2M499.4 1788.8L506.9 1810.3M499.4 1788.8L496.9 1780.7M499.4 1788.8L505.0 1777.6M499.4 1788.8L506.9 1803.2M499.4 1788.8L485.0 1795.7M499.4 1788.8L491.3 1803.6M517.5 1792.6L536.9 1814.5M517.5 1792.6L493.8 1770.1M517.5 1792.6L538.2 1777.8M517.5 1792.6L516.3 1823.2M517.5 1792.6L521.3 1798.2M517.5 1792.6L640.1 1851.9M534.4 1792.3L521.3 1798.2M534.4 1792.3L528.2 1781.9M534.4 1792.3L526.7 1757.3M534.4 1792.3L516.3 1823.2M534.4 1792.3L511.9 1770.7M534.4 1792.3L546.9 1777.8M528.2 1781.9L499.4 1788.8M528.2 1781.9L511.9 1770.7M528.2 1781.9L496.9 1780.7M528.2 1781.9L505.0 1777.6M528.2 1781.9L517.5 1792.6M528.2 1781.9L536.9 1814.5M528.2 1781.9L644.4 1905.7M521.3 1798.2L546.9 1777.8M521.3 1798.2L514.4 1777.6M521.3 1798.2L506.9 1810.3M521.3 1798.2L517.5 1792.6M521.3 1798.2L511.9 1770.7M521.3 1798.2L528.2 1781.9M491.3 1803.6L483.2 1817.0M491.3 1803.6L506.9 1803.2M491.3 1803.6L499.4 1788.8M491.3 1803.6L479.4 1830.1M491.3 1803.6L466.9 1792.3M506.9 1803.2L496.9 1780.7M506.9 1803.2L506.9 1810.3M506.9 1803.2L517.5 1792.6M506.9 1803.2L514.4 1777.6M506.9 1803.2L534.4 1792.3M466.9 1806.3L461.3 1769.4M466.9 1806.3L496.9 1780.7M466.9 1806.3L458.1 1769.4M466.9 1806.3L457.5 1791.9M466.9 1806.3L542.9 1866.6M478.8 1808.8L483.2 1817.0M478.8 1808.8L476.3 1817.0M506.9 1810.3L517.5 1792.6M506.9 1810.3L516.3 1823.2M506.9 1810.3L521.3 1798.2M506.9 1810.3L688.2 1847.9M606.1 1804.7L619.5 1766.9M606.1 1804.7L578.6 1852.9M606.1 1804.7L636.4 1775.7M638.9 1795.1L640.1 1851.9M638.9 1795.1L663.8 1766.9M638.9 1795.1L614.2 1755.4M638.9 1795.1L663.8 1800.7M638.9 1795.1L619.5 1766.9M638.9 1795.1L635.1 1748.2M638.9 1795.1L519.0 1675.1M536.9 1814.5L551.7 1818.8M536.9 1814.5L526.7 1775.1M536.9 1814.5L567.0 1786.9M536.9 1814.5L546.9 1777.8M536.9 1814.5L506.9 1803.2M536.9 1814.5L534.4 1792.3M551.7 1818.8L567.0 1786.9M551.7 1818.8L521.3 1798.2M551.7 1818.8L534.4 1792.3M551.7 1818.8L561.1 1852.5M551.7 1818.8L506.9 1810.3M483.2 1817.0L500.4 1843.5M483.2 1817.0L506.9 1803.2M476.3 1817.0L496.9 1780.7M476.3 1817.0L468.8 1780.7M476.3 1817.0L457.5 1791.9M476.3 1817.0L491.9 1822.6M491.9 1822.6L476.3 1817.0M491.9 1822.6L496.9 1780.7M491.9 1822.6L483.2 1817.0M491.9 1822.6L574.1 1715.4M516.3 1823.2L521.3 1798.2M516.3 1823.2L551.7 1818.8M516.3 1823.2L500.4 1843.5M479.4 1830.1L465.9 1860.0M479.4 1830.1L466.9 1792.3M479.4 1830.1L438.9 1846.3M479.4 1830.1L499.4 1788.8M575.7 1830.1L590.7 1841.0M575.7 1830.1L587.0 1871.9M749.8 1691.9L721.1 1756.3M749.8 1691.9L792.8 1698.5M749.8 1691.9L778.0 1661.7M792.8 1698.5L796.3 1680.1M792.8 1698.5L749.8 1691.9M792.8 1698.5L721.1 1756.3M792.8 1698.5L746.7 1715.0M792.8 1698.5L786.7 1715.6M792.8 1698.5L778.0 1661.7M792.8 1698.5L611.1 1709.8M786.7 1715.6L778.0 1661.7M786.7 1715.6L780.7 1677.6M786.7 1715.6L792.8 1698.5M786.7 1715.6L762.6 1841.9M678.8 1699.8L656.9 1740.0M678.8 1699.8L674.4 1735.7M678.8 1699.8L743.2 1862.5M674.4 1735.7L635.1 1748.2M674.4 1735.7L663.8 1766.9M674.4 1735.7L636.4 1775.7M674.4 1735.7L704.4 1737.9M656.9 1740.0L663.8 1766.9M656.9 1740.0L638.9 1736.9M656.9 1740.0L602.0 1740.3M721.1 1756.3L656.9 1740.0M721.1 1756.3L723.8 1830.1M721.1 1756.3L723.2 1863.8M663.8 1766.9L638.9 1736.9M663.8 1766.9L619.5 1766.9M663.8 1766.9L721.1 1756.3M690.0 1774.8L709.4 1825.7M690.0 1774.8L670.0 1819.5M729.8 1774.4L664.4 1782.8M729.8 1774.4L741.3 1837.5M664.4 1782.8L709.4 1825.7M664.4 1782.8L602.6 1785.1M664.4 1782.8L619.5 1766.9M664.4 1782.8L606.1 1804.7M664.4 1782.8L638.9 1736.9M664.4 1782.8L663.8 1766.9M723.6 1810.7L688.2 1847.9M723.6 1810.7L723.2 1863.8M670.0 1819.5L724.1 1850.0M670.0 1819.5L688.2 1847.9M670.0 1819.5L710.7 1844.4M670.0 1819.5L723.6 1810.7M760.1 1818.6L769.5 1859.4M760.1 1818.6L777.0 1849.4M797.0 1822.6L746.1 1827.6M797.0 1822.6L738.8 1837.5M797.0 1822.6L760.1 1818.6M797.0 1822.6L777.0 1849.4M797.0 1822.6L769.5 1859.4M797.0 1822.6L782.0 1871.9M797.0 1822.6L712.5 1907.5M709.4 1825.7L723.2 1863.8M709.4 1825.7L760.1 1818.6M709.4 1825.7L741.3 1837.5M709.4 1825.7L746.1 1827.6M709.4 1825.7L710.7 1844.4M746.1 1827.6L724.1 1850.0M746.1 1827.6L723.2 1863.8M746.1 1827.6L723.8 1830.1M746.1 1827.6L640.1 1851.9M723.8 1830.1L713.8 1873.8M723.8 1830.1L741.3 1837.5M723.8 1830.1L700.0 1856.9M723.8 1830.1L710.7 1844.4M723.8 1830.1L709.4 1825.7M342.9 1837.5L349.4 1804.1M342.9 1837.5L329.2 1779.8M342.9 1837.5L330.3 1827.0M342.9 1837.5L367.6 1873.2M342.9 1837.5L316.3 1864.8M303.2 1848.8L384.5 1864.8M303.2 1848.8L377.6 1881.0M303.2 1848.8L261.5 1838.1M303.2 1848.8L292.2 1807.2M303.2 1848.8L367.6 1873.2M316.3 1864.8L289.0 1822.6M316.3 1864.8L342.9 1837.5M316.3 1864.8L375.1 1896.9M316.3 1864.8L292.2 1807.2M316.3 1864.8L362.3 1888.8M438.9 1846.3L388.2 1883.8M438.9 1846.3L457.5 1791.9M438.9 1846.3L479.4 1830.1M438.9 1846.3L466.9 1806.3M438.9 1846.3L435.7 1905.7M384.5 1864.8L385.1 1910.1M384.5 1864.8L375.1 1896.9M384.5 1864.8L342.9 1837.5M384.5 1864.8L390.7 1800.1M367.6 1873.2L415.1 1830.1M367.6 1873.2L371.3 1911.9M367.6 1873.2L342.9 1837.5M377.6 1881.0L384.5 1864.8M377.6 1881.0L435.7 1905.7M377.6 1881.0L371.3 1911.9M377.6 1881.0L405.1 1920.7M377.6 1881.0L362.2 1904.0M377.6 1881.0L375.1 1924.4M388.2 1883.8L362.2 1904.0M388.2 1883.8L405.1 1920.7M388.2 1883.8L371.3 1911.9M362.3 1888.8L388.2 1883.8M362.3 1888.8L377.6 1881.0M375.1 1896.9L385.1 1910.1M375.1 1896.9L384.5 1864.8M375.1 1896.9L435.7 1905.7M362.2 1904.0L385.1 1910.1M362.2 1904.0L342.9 1837.5M362.2 1904.0L391.7 1921.3M371.3 1911.9L416.4 1932.3M371.3 1911.9L375.1 1924.4M371.3 1911.9L362.2 1904.0M371.3 1911.9L387.0 1933.2M371.3 1911.9L420.1 1917.3M385.1 1910.1L435.7 1905.7M385.1 1910.1L401.6 1935.3M385.1 1910.1L384.5 1864.8M385.1 1910.1L518.2 1868.8M375.1 1924.4L420.1 1917.3M375.1 1924.4L371.3 1911.9M375.1 1924.4L405.1 1920.7M375.1 1924.4L431.4 1923.6M375.1 1924.4L367.6 1873.2M375.1 1924.4L401.6 1935.3M391.7 1921.3L362.3 1888.8M391.7 1921.3L420.1 1917.3M391.7 1921.3L420.5 1872.9M391.7 1921.3L388.2 1883.8M391.7 1921.3L405.1 1920.7M391.7 1921.3L435.7 1905.7M391.7 1921.3L366.6 1756.5M405.1 1920.7L435.7 1905.7M405.1 1920.7L416.4 1932.3M405.1 1920.7L438.9 1886.9M405.1 1920.7L362.3 1888.8M420.1 1917.3L387.0 1933.2M420.1 1917.3L375.1 1896.9M420.1 1917.3L472.5 1936.9M431.4 1923.6L388.2 1883.8M431.4 1923.6L371.3 1911.9M431.4 1923.6L438.9 1886.9M431.4 1923.6L490.7 1914.8M431.4 1923.6L420.5 1872.9M431.4 1923.6L485.9 1949.2M387.0 1933.2L367.6 1873.2M387.0 1933.2L405.1 1920.7M387.0 1933.2L375.1 1924.4M387.0 1933.2L385.1 1910.1M387.0 1933.2L375.1 1896.9M401.6 1935.3L420.5 1872.9M401.6 1935.3L362.2 1904.0M401.6 1935.3L391.7 1921.3M416.4 1932.3L362.3 1888.8M416.4 1932.3L435.7 1905.7M416.4 1932.3L362.2 1904.0M416.4 1932.3L375.1 1924.4M416.4 1932.3L401.6 1935.3M420.5 1872.9L416.4 1932.3M420.5 1872.9L385.1 1910.1M420.5 1872.9L438.9 1823.8M420.5 1872.9L375.1 1896.9M438.9 1886.9L438.9 1846.3M438.9 1886.9L384.5 1864.8M438.9 1886.9L431.4 1923.6M435.7 1905.7L388.2 1883.8M435.7 1905.7L438.9 1886.9M435.7 1905.7L391.7 1921.3M435.7 1905.7L405.1 1920.7M435.7 1905.7L401.6 1935.3M435.7 1905.7L490.7 1914.8M435.7 1905.7L400.1 1801.3M465.9 1860.0L435.7 1905.7M465.9 1860.0L518.2 1868.8M465.9 1860.0L483.2 1817.0M465.9 1860.0L479.4 1830.1M465.9 1860.0L500.4 1843.5M518.2 1868.8L479.4 1830.1M518.2 1868.8L540.7 1909.4M518.2 1868.8L564.8 1892.5M518.2 1868.8L505.9 1922.6M518.2 1868.8L500.4 1843.5M518.2 1868.8L606.1 1804.7M542.9 1866.6L500.4 1843.5M542.9 1866.6L564.8 1892.5M542.9 1866.6L557.9 1843.5M557.9 1843.5L587.0 1871.9M557.9 1843.5L567.6 1878.8M557.9 1843.5L561.7 1870.3M557.9 1843.5L595.5 1851.0M557.9 1843.5L591.3 1865.0M561.1 1852.5L587.0 1871.9M561.1 1852.5L595.5 1851.0M561.1 1852.5L520.7 1840.0M590.7 1841.0L567.6 1878.8M590.7 1841.0L595.5 1843.8M590.7 1841.0L576.0 1868.8M595.5 1843.8L561.1 1852.5M595.5 1843.8L561.7 1870.3M595.5 1843.8L567.6 1878.8M595.5 1843.8L601.7 1868.1M578.6 1852.9L567.6 1878.8M578.6 1852.9L591.3 1865.0M595.5 1851.0L590.7 1841.0M595.5 1851.0L608.2 1857.5M595.5 1851.0L561.1 1852.5M595.5 1851.0L626.4 1872.5M595.5 1851.0L620.7 1884.0M608.2 1857.5L601.7 1868.1M608.2 1857.5L561.1 1852.5M608.2 1857.5L590.7 1841.0M608.2 1857.5L595.5 1851.0M601.7 1868.1L587.0 1871.9M601.7 1868.1L595.5 1851.0M601.7 1868.1L595.5 1843.8M601.7 1868.1L614.9 1871.0M591.3 1865.0L578.6 1852.9M591.3 1865.0L595.5 1843.8M591.3 1865.0L561.1 1852.5M591.3 1865.0L620.7 1884.0M587.0 1871.9L577.0 1881.3M587.0 1871.9L565.7 1885.7M587.0 1871.9L595.5 1851.0M587.0 1871.9L572.0 1891.9M587.0 1871.9L614.9 1871.0M587.0 1871.9L601.7 1868.1M576.0 1868.8L561.7 1870.3M576.0 1868.8L583.8 1904.8M576.0 1868.8L572.0 1891.9M576.0 1868.8L565.7 1885.7M576.0 1868.8L608.2 1857.5M561.7 1870.3L590.7 1841.0M561.7 1870.3L576.0 1868.8M561.7 1870.3L595.5 1843.8M561.7 1870.3L572.0 1891.9M561.7 1870.3L565.7 1885.7M567.6 1878.8L595.5 1851.0M567.6 1878.8L564.8 1892.5M567.6 1878.8L565.7 1885.7M567.6 1878.8L709.4 1825.7M577.0 1881.3L542.9 1866.6M577.0 1881.3L601.7 1868.1M577.0 1881.3L573.0 1916.6M577.0 1881.3L564.8 1892.5M577.0 1881.3L561.7 1870.3M565.7 1885.7L576.0 1868.8M565.7 1885.7L561.1 1852.5M572.0 1891.9L564.8 1892.5M572.0 1891.9L565.7 1885.7M626.4 1872.5L608.2 1857.5M626.4 1872.5L595.5 1843.8M626.4 1872.5L660.6 1895.7M626.4 1872.5L606.1 1897.2M632.6 1880.0L620.7 1884.0M632.6 1880.0L644.4 1905.7M632.6 1880.0L635.1 1918.2M620.7 1884.0L606.1 1897.2M620.7 1884.0L635.1 1918.2M620.7 1884.0L587.0 1871.9M620.7 1884.0L608.2 1857.5M638.9 1893.8L626.4 1872.5M638.9 1893.8L665.6 1884.4M638.9 1893.8L673.8 1894.0M638.9 1893.8L645.6 1916.9M638.9 1893.8L601.7 1868.1M638.9 1893.8L660.6 1895.7M606.1 1897.2L638.9 1893.8M606.1 1897.2L572.0 1891.9M606.1 1897.2L644.4 1905.7M606.1 1897.2L632.6 1880.0M583.8 1904.8L614.9 1871.0M583.8 1904.8L601.7 1868.1M583.8 1904.8L607.4 1920.1M583.8 1904.8L591.3 1865.0M633.2 1906.3L626.4 1872.5M633.2 1906.3L606.1 1897.2M635.1 1918.2L658.8 1929.8M635.1 1918.2L644.4 1905.7M635.1 1918.2L633.2 1906.3M635.1 1918.2L607.4 1920.1M573.0 1916.6L601.7 1868.1M573.0 1916.6L572.0 1891.9M573.0 1916.6L561.7 1870.3M573.0 1916.6L540.7 1909.4M573.0 1916.6L539.2 1959.7M573.0 1916.6L517.5 1792.6M607.4 1920.1L606.1 1897.2M607.4 1920.1L601.7 1868.1M607.4 1920.1L577.0 1881.3M607.4 1920.1L638.9 1893.8M607.4 1920.1L635.1 1918.2M608.0 1941.7L633.6 1971.7M608.0 1941.7L606.1 1897.2M608.0 1941.7L635.1 1918.2M608.0 1941.7L618.9 1991.8M608.0 1941.7L572.0 1891.9M608.0 1941.7L645.6 1916.9M481.7 1898.8L472.5 1936.9M481.7 1898.8L438.9 1886.9M481.7 1898.8L509.7 1897.5M509.7 1897.5L505.9 1922.6M509.7 1897.5L565.7 1885.7M540.7 1909.4L583.8 1904.8M540.7 1909.4L542.9 1866.6M540.7 1909.4L505.7 1955.1M490.7 1914.8L435.7 1905.7M490.7 1914.8L505.9 1922.6M505.9 1922.6L523.2 1926.9M505.9 1922.6L542.9 1866.6M505.9 1922.6L547.9 1976.3M505.9 1922.6L564.8 1892.5M505.9 1922.6L573.0 1916.6M505.9 1922.6L528.6 1978.8M523.2 1926.9L472.5 1936.9M523.2 1926.9L564.8 1892.5M523.2 1926.9L509.7 1897.5M523.2 1926.9L505.9 1922.6M523.2 1926.9L561.3 1960.1M523.2 1926.9L512.9 1964.5M472.5 1936.9L528.6 1978.8M472.5 1936.9L438.9 1886.9M472.5 1936.9L505.7 1955.1M472.5 1936.9L534.4 1792.3M485.9 1949.2L505.9 1922.6M485.9 1949.2L472.5 1936.9M485.9 1949.2L540.7 1909.4M485.9 1949.2L342.9 1837.5M505.7 1955.1L485.9 1949.2M505.7 1955.1L539.2 1959.7M512.9 1964.5L564.8 1892.5M512.9 1964.5L507.5 1974.5M512.9 1964.5L561.3 1960.1M539.2 1959.7L583.8 1904.8M539.2 1959.7L507.5 1974.5M539.2 1959.7L528.6 1978.8M561.3 1960.1L528.6 1978.8M561.3 1960.1L505.7 1955.1M561.3 1960.1L572.0 1891.9M547.9 1976.3L528.6 1978.8M547.9 1976.3L564.8 1892.5M547.9 1976.3L539.2 1959.7M547.9 1976.3L490.7 1914.8M547.9 1976.3L706.3 1871.9M640.1 1851.9L688.2 1847.9M640.1 1851.9L670.0 1819.5M658.8 1874.4L640.1 1851.9M658.8 1874.4L645.6 1916.9M658.8 1874.4L660.6 1895.7M658.8 1874.4L706.3 1871.9M658.8 1874.4L614.9 1871.0M658.8 1874.4L661.9 1912.2M665.6 1884.4L644.4 1905.7M665.6 1884.4L638.9 1893.8M665.6 1884.4L661.9 1912.2M665.6 1884.4L704.4 1906.9M665.6 1884.4L633.2 1906.3M665.6 1884.4L638.9 1736.9M673.8 1894.0L658.8 1929.8M673.8 1894.0L712.5 1907.5M673.8 1894.0L704.4 1906.9M673.8 1894.0L632.6 1880.0M673.8 1894.0L633.2 1906.3M660.6 1895.7L676.9 1923.2M660.6 1895.7L673.8 1894.0M660.6 1895.7L635.1 1918.2M660.6 1895.7L700.0 1884.4M644.4 1905.7L661.9 1912.2M644.4 1905.7L673.8 1894.0M645.6 1916.9L620.7 1884.0M645.6 1916.9L614.9 1871.0M645.6 1916.9L626.4 1872.5M658.8 1929.8L658.8 1874.4M658.8 1929.8L665.6 1884.4M658.8 1929.8L661.9 1912.2M676.9 1923.2L638.9 1893.8M676.9 1923.2L704.4 1906.9M676.9 1923.2L658.8 1929.8M676.9 1923.2L660.6 1895.7M688.2 1847.9L717.5 1841.3M688.2 1847.9L713.8 1873.8M688.2 1847.9L727.6 1874.4M688.2 1847.9L709.4 1825.7M688.2 1847.9L640.1 1851.9M688.2 1847.9L710.7 1844.4M700.0 1856.9L730.1 1875.3M700.0 1856.9L723.2 1863.8M700.0 1856.9L724.1 1850.0M700.0 1856.9L713.8 1873.8M700.0 1856.9L710.7 1885.7M700.0 1856.9L695.7 1708.1M710.7 1844.4L723.2 1863.8M710.7 1844.4L738.8 1837.5M710.7 1844.4L717.5 1841.3M710.7 1844.4L741.9 1860.0M710.7 1844.4L746.1 1827.6M717.5 1841.3L696.3 1876.3M717.5 1841.3L746.1 1827.6M724.1 1850.0L706.3 1871.9M724.1 1850.0L747.3 1877.5M724.1 1850.0L727.6 1874.4M741.3 1837.5L710.7 1844.4M741.3 1837.5L777.0 1849.4M741.3 1837.5L741.9 1860.0M741.3 1837.5L723.8 1830.1M741.3 1837.5L769.5 1859.4M741.3 1837.5L709.4 1825.7M741.3 1837.5L601.7 1868.1M738.8 1837.5L723.2 1863.8M738.8 1837.5L723.6 1810.7M738.8 1837.5L758.8 1839.4M738.8 1837.5L724.1 1850.0M738.8 1837.5L633.6 1971.7M762.6 1841.9L741.3 1837.5M762.6 1841.9L765.1 1878.2M762.6 1841.9L797.0 1822.6M762.6 1841.9L747.3 1877.5M762.6 1841.9L619.5 1766.9M758.8 1839.4L762.6 1841.9M758.8 1839.4L724.1 1850.0M758.8 1839.4L743.2 1862.5M758.8 1839.4L717.5 1841.3M758.8 1839.4L783.0 1863.1M758.8 1839.4L723.2 1863.8M758.8 1839.4L636.4 1775.7M777.0 1849.4L747.3 1877.5M777.0 1849.4L797.0 1822.6M777.0 1849.4L743.2 1862.5M777.0 1849.4L738.8 1837.5M777.0 1849.4L746.1 1827.6M777.0 1849.4L782.0 1871.9M769.5 1859.4L765.1 1878.2M769.5 1859.4L763.2 1886.3M769.5 1859.4L783.0 1863.1M769.5 1859.4L758.8 1839.4M769.5 1859.4L762.6 1841.9M723.2 1863.8L713.8 1873.8M723.2 1863.8L727.6 1874.4M723.2 1863.8L730.1 1875.3M723.2 1863.8L747.6 1885.0M723.2 1863.8L717.5 1841.3M743.2 1862.5L717.5 1841.3M743.2 1862.5L730.1 1875.3M743.2 1862.5L762.6 1841.9M743.2 1862.5L713.8 1873.8M743.2 1862.5L747.3 1877.5M741.9 1860.0L747.6 1885.0M741.9 1860.0L762.6 1841.9M696.3 1876.3L658.8 1874.4M696.3 1876.3L730.1 1875.3M706.3 1871.9L688.2 1847.9M706.3 1871.9L730.1 1875.3M706.3 1871.9L741.9 1860.0M706.3 1871.9L838.2 1895.0M713.8 1873.8L710.7 1885.7M713.8 1873.8L706.3 1871.9M713.8 1873.8L712.5 1907.5M713.8 1873.8L730.1 1875.3M727.6 1874.4L723.2 1863.8M727.6 1874.4L743.2 1862.5M727.6 1874.4L747.3 1877.5M727.6 1874.4L710.7 1885.7M727.6 1874.4L721.3 1901.3M727.6 1874.4L636.4 1775.7M730.1 1875.3L751.9 1898.2M730.1 1875.3L747.3 1877.5M730.1 1875.3L736.9 1906.9M730.1 1875.3L741.9 1860.0M747.3 1877.5L765.1 1878.2M747.3 1877.5L774.2 1886.9M747.3 1877.5L756.9 1910.7M747.3 1877.5L727.6 1874.4M747.3 1877.5L730.1 1875.3M765.1 1878.2L763.2 1886.3M765.1 1878.2L756.9 1910.7M765.1 1878.2L756.9 1897.5M700.0 1884.4L721.3 1901.3M700.0 1884.4L706.3 1871.9M700.0 1884.4L723.2 1863.8M710.7 1885.7L736.9 1906.9M710.7 1885.7L706.3 1871.9M710.7 1885.7L723.2 1910.1M747.6 1885.0L721.3 1901.3M747.6 1885.0L741.9 1860.0M763.2 1886.3L731.9 1900.0M763.2 1886.3L747.6 1885.0M763.2 1886.3L783.0 1863.1M763.2 1886.3L635.1 1918.2M774.2 1886.9L756.9 1897.5M774.2 1886.9L743.2 1862.5M785.1 1896.0L769.5 1859.4M785.1 1896.0L782.0 1871.9M785.1 1896.0L783.0 1863.1M782.0 1871.9L777.0 1849.4M782.0 1871.9L783.0 1863.1M782.0 1871.9L747.3 1877.5M715.0 1896.3L730.1 1875.3M715.0 1896.3L731.9 1900.0M715.0 1896.3L736.9 1906.9M715.0 1896.3L713.8 1873.8M715.0 1896.3L551.7 1818.8M721.3 1901.3L712.5 1907.5M721.3 1901.3L736.9 1906.9M721.3 1901.3L723.2 1910.1M721.3 1901.3L727.6 1874.4M721.3 1901.3L751.9 1898.2M731.9 1900.0L763.2 1886.3M731.9 1900.0L704.4 1906.9M731.9 1900.0L756.9 1897.5M731.9 1900.0L674.4 1735.7M736.9 1906.9L747.3 1877.5M736.9 1906.9L704.4 1906.9M736.9 1906.9L715.0 1896.3M704.4 1906.9L723.2 1910.1M704.4 1906.9L713.8 1873.8M704.4 1906.9L676.9 1923.2M712.5 1907.5L721.3 1901.3M712.5 1907.5L738.2 1927.3M712.5 1907.5L731.9 1900.0M723.2 1910.1L727.6 1874.4M723.2 1910.1L713.8 1873.8M729.8 1920.1L770.7 1903.2M729.8 1920.1L738.2 1927.3M729.8 1920.1L751.9 1898.2M738.2 1927.3L736.9 1906.9M738.2 1927.3L747.6 1885.0M738.2 1927.3L721.3 1901.3M738.2 1927.3L756.9 1910.7M738.2 1927.3L756.9 1897.5M756.9 1897.5L721.3 1901.3M756.9 1897.5L736.9 1906.9M756.9 1897.5L774.2 1886.9M751.9 1898.2L747.6 1885.0M751.9 1898.2L785.1 1896.0M770.7 1903.2L790.7 1914.8M770.7 1903.2L763.2 1886.3M770.7 1903.2L769.5 1859.4M756.9 1910.7L756.9 1897.5M756.9 1910.7L770.7 1903.2M756.9 1910.7L723.2 1910.1M760.5 1932.3L721.3 1901.3M760.5 1932.3L785.1 1896.0M790.7 1914.8L812.4 1916.9M790.7 1914.8L793.2 1934.1M790.7 1914.8L751.9 1898.2M790.7 1914.8L782.0 1871.9M790.7 1914.8L763.2 1886.3M812.4 1916.9L785.1 1896.0M812.4 1916.9L793.2 1934.1M812.4 1916.9L774.2 1886.9M812.4 1916.9L824.9 1925.7M812.4 1916.9L688.2 1847.9M820.5 1901.0L829.7 1907.9M820.5 1901.0L774.2 1886.9M820.5 1901.0L763.2 1886.3M820.5 1901.0L785.1 1896.0M820.5 1901.0L812.4 1916.9M820.5 1901.0L783.0 1863.1M829.7 1907.9L770.7 1903.2M829.7 1907.9L782.0 1871.9M829.7 1907.9L838.2 1895.0M824.9 1878.2L765.1 1878.2M824.9 1878.2L770.7 1903.2M832.6 1884.4L763.2 1886.3M832.6 1884.4L812.4 1916.9M832.6 1884.4L824.9 1878.2M832.6 1884.4L829.7 1907.9M832.6 1884.4L838.2 1895.0M832.6 1884.4L777.0 1849.4M838.2 1895.0L824.9 1878.2M838.2 1895.0L793.2 1934.1M838.2 1895.0L785.1 1896.0M824.9 1925.7L812.4 1916.9M824.9 1925.7L820.5 1901.0M808.2 1931.9L838.2 1895.0M808.2 1931.9L793.2 1934.1M808.2 1931.9L756.9 1897.5M793.2 1934.1L824.9 1925.7M793.2 1934.1L756.9 1897.5M793.2 1934.1L765.1 1878.2M793.2 1934.1L736.9 1906.9M793.2 1934.1L812.4 1916.9M793.2 1934.1L724.1 1850.0M618.9 1991.8L583.8 1904.8M618.9 1991.8L633.2 1906.3M618.9 1991.8L539.2 1959.7M618.9 1991.8L676.9 1923.2M618.9 1991.8L607.4 1920.1M618.9 1991.8L505.7 1955.1M464.4 1417.5L426.3 1428.5M464.4 1417.5L430.9 1456.5M464.4 1417.5L462.3 1492.9M464.4 1417.5L438.2 1398.8M464.4 1417.5L456.9 1474.4M473.8 1515.1L497.0 1527.6M473.8 1515.1L470.1 1517.6M473.8 1515.1L438.9 1541.3M473.8 1515.1L435.0 1527.6M473.8 1515.1L445.1 1515.1M524.2 1455.9L536.7 1507.8M524.2 1455.9L534.5 1463.8M524.2 1455.9L543.0 1494.1M524.2 1455.9L536.7 1457.5M524.2 1455.9L493.0 1413.1M524.2 1455.9L543.2 1477.3M534.5 1463.8L543.0 1494.1M534.5 1463.8L563.2 1494.4M534.5 1463.8L489.2 1447.8M552.0 1466.3L543.2 1477.3M552.0 1466.3L524.2 1455.9M552.0 1466.3L534.5 1463.8M552.0 1466.3L564.2 1508.5M552.0 1466.3L550.0 1486.3M552.0 1466.3L536.7 1457.5M543.2 1477.3L515.1 1483.2M543.2 1477.3L550.0 1486.3M543.0 1494.1L564.2 1508.5M543.0 1494.1L552.0 1466.3M536.7 1507.8L564.2 1508.5M536.7 1507.8L513.2 1512.8M553.2 1522.6L552.6 1477.6M553.2 1522.6L564.2 1508.5M553.2 1522.6L543.2 1477.3M553.2 1522.6L542.8 1536.9M553.2 1522.6L513.2 1512.8M428.2 1641.1L478.1 1630.7M428.2 1641.1L448.1 1660.3M428.2 1641.1L401.0 1669.1M428.2 1641.1L438.2 1601.3M428.2 1641.1L420.5 1737.8M536.9 1609.0L493.8 1621.7M536.9 1609.0L513.8 1611.3M536.9 1609.0L564.8 1571.3M536.9 1609.0L579.1 1651.6M536.9 1609.0L554.1 1634.4M564.2 1508.5L563.2 1494.4M564.2 1508.5L567.5 1498.8M564.2 1508.5L536.7 1507.8M564.2 1508.5L445.1 1515.1M567.5 1498.8L563.8 1484.4M567.5 1498.8L542.8 1536.9M567.5 1498.8L574.0 1513.8M567.5 1498.8L530.1 1520.1M567.5 1498.8L535.1 1470.1M334.4 1706.3L365.1 1676.3M334.4 1706.3L376.1 1702.3M334.4 1706.3L306.3 1722.3M334.4 1706.3L346.1 1662.8M334.4 1706.3L317.8 1691.9M334.4 1706.3L331.6 1755.3M347.8 1724.8L331.6 1755.3M347.8 1724.8L317.8 1691.9M347.8 1724.8L381.3 1725.3M347.8 1724.8L376.1 1702.3M347.8 1724.8L306.3 1722.3M331.6 1755.3L355.1 1787.8M331.6 1755.3L361.1 1716.9M331.6 1755.3L334.4 1706.3M331.6 1755.3L374.5 1769.1M331.6 1755.3L359.2 1742.2M331.6 1755.3L351.3 1752.9M366.6 1756.5L392.3 1740.0M366.6 1756.5L329.2 1779.8M366.6 1756.5L394.7 1729.8M374.5 1769.1L364.5 1773.2M374.5 1769.1L413.5 1762.8M374.5 1769.1L346.3 1770.3M374.5 1769.1L400.1 1801.3M374.5 1769.1L381.7 1787.3M418.5 1748.4L465.0 1738.2M418.5 1748.4L448.1 1736.9M418.5 1748.4L387.8 1771.9M418.5 1748.4L422.6 1702.8M413.5 1762.8L404.9 1743.8M413.5 1762.8L418.5 1748.4M413.5 1762.8L392.3 1740.0M413.5 1762.8L449.8 1778.4M413.5 1762.8L513.8 1611.3M305.7 1787.8L351.3 1752.9M305.7 1787.8L305.7 1765.7M305.7 1787.8L304.0 1739.4M305.7 1787.8L355.1 1787.8M262.9 1800.7L342.9 1837.5M262.9 1800.7L288.4 1745.9M292.2 1807.2L316.3 1864.8M292.2 1807.2L349.4 1804.1M292.2 1807.2L342.9 1837.5M292.2 1807.2L371.3 1911.9M400.1 1801.3L364.5 1773.2M400.1 1801.3L457.5 1791.9M400.1 1801.3L387.8 1771.9M400.1 1801.3L449.8 1778.4M400.1 1801.3L366.6 1756.5M400.1 1801.3L418.5 1748.4M526.9 1745.0L511.9 1770.7M526.9 1745.0L549.4 1735.3M526.9 1745.0L495.0 1755.0M526.9 1745.0L514.4 1777.6M526.9 1745.0L534.4 1736.3M526.9 1745.0L404.9 1743.8M695.7 1708.1L623.9 1732.5M695.7 1708.1L746.7 1715.0M695.7 1708.1L758.2 1660.1M695.7 1708.1L626.4 1756.3M695.7 1708.1L620.1 1746.3M746.7 1715.0L729.8 1774.4M746.7 1715.0L786.7 1715.6M746.7 1715.0L695.7 1708.1M746.7 1715.0L758.2 1660.1M746.7 1715.0L678.8 1699.8M746.7 1715.0L792.8 1698.5M704.4 1737.9L638.9 1736.9M704.4 1737.9L635.1 1748.2M704.4 1737.9L626.4 1756.3M704.4 1737.9L749.8 1691.9M663.8 1800.7L635.1 1748.2M663.8 1800.7L656.9 1740.0M663.8 1800.7L640.1 1851.9M663.8 1800.7L638.9 1795.1M663.8 1800.7L619.5 1766.9M261.5 1838.1L289.0 1780.7M261.5 1838.1L342.9 1837.5M261.5 1838.1L349.4 1804.1M500.4 1843.5L478.8 1808.8M500.4 1843.5L517.5 1792.6M520.7 1840.0L557.9 1843.5M520.7 1840.0L521.3 1798.2M520.7 1840.0L542.9 1866.6M520.7 1840.0L517.5 1792.6M520.7 1840.0L516.3 1823.2M520.7 1840.0L483.2 1817.0M520.7 1840.0L706.3 1871.9M564.8 1892.5L607.4 1920.1M564.8 1892.5L587.0 1871.9M564.8 1892.5L606.1 1897.2M564.8 1892.5L540.7 1909.4M614.9 1871.0L590.7 1841.0M614.9 1871.0L577.0 1881.3M614.9 1871.0L595.5 1843.8M614.9 1871.0L626.4 1872.5M614.9 1871.0L640.1 1851.9M507.5 1974.5L512.9 1964.5M507.5 1974.5L490.7 1914.8M507.5 1974.5L505.7 1955.1M507.5 1974.5L505.9 1922.6M507.5 1974.5L485.9 1949.2M507.5 1974.5L644.4 1905.7M528.6 1978.8L573.0 1916.6M528.6 1978.8L505.7 1955.1M528.6 1978.8L485.9 1949.2M528.6 1978.8L618.9 1991.8M528.6 1978.8L523.2 1926.9M528.6 1978.8L608.0 1941.7M633.6 1971.7L561.3 1960.1M633.6 1971.7L547.9 1976.3M633.6 1971.7L658.8 1929.8M633.6 1971.7L583.8 1904.8M633.6 1971.7L607.4 1920.1M633.6 1971.7L660.6 1895.7M661.9 1912.2L638.9 1893.8M661.9 1912.2L712.5 1907.5M661.9 1912.2L546.9 1777.8M783.0 1863.1L743.2 1862.5M783.0 1863.1L824.9 1878.2M783.0 1863.1L770.7 1903.2M783.0 1863.1L751.9 1898.2M783.0 1863.1L786.7 1715.6" stroke="#c4c4c4" stroke-opacity="0.5" stroke-width="0.7" fill="none"/>
<path d="M535.3 1357.7L567.5 1498.8M535.3 1357.7L543.2 1477.3M535.3 1357.7L543.0 1494.1M535.3 1357.7L534.5 1463.8M535.3 1357.7L536.7 1507.8M535.3 1357.7L552.0 1466.3M535.3 1357.7L536.9 1609.0M535.3 1357.7L464.4 1417.5M535.3 1357.7L473.8 1515.0M535.3 1357.7L489.5 1447.8M283.5 1557.8L399.1 1569.1M283.5 1557.8L401.3 1590.0M283.5 1557.8L490.7 1605.7M283.5 1557.8L512.5 1586.0M717.3 1527.5L534.5 1463.8M717.3 1527.5L536.7 1507.8M717.3 1527.5L543.0 1494.1M717.3 1527.5L567.5 1498.8M717.3 1527.5L515.1 1483.2M717.3 1527.5L536.9 1609.0M717.3 1527.5L542.8 1536.9M717.3 1527.5L480.3 1578.8M717.3 1527.5L262.9 1800.7M717.3 1527.5L334.4 1706.3M717.3 1527.5L292.2 1807.2M717.3 1527.5L526.9 1745.0M717.3 1527.5L526.7 1757.3M717.3 1527.5L478.8 1808.8M717.3 1527.5L695.7 1708.1M717.3 1527.5L638.9 1795.1M717.3 1527.5L500.4 1843.5M717.3 1527.5L528.6 1978.8M717.3 1527.5L518.2 1868.8M717.3 1527.5L661.9 1912.2M717.3 1527.5L710.7 1844.4M717.3 1527.5L746.7 1715.0M717.3 1527.5L786.7 1715.6M717.3 1527.5L704.4 1737.9M854.6 1754.6L567.5 1498.8M854.6 1754.6L552.0 1466.3M854.6 1754.6L543.0 1494.1M854.6 1754.6L534.5 1463.8M854.6 1754.6L577.3 1472.8M854.6 1754.6L513.2 1512.8M854.6 1754.6L530.1 1520.1M854.6 1754.6L536.7 1457.5M854.6 1754.6L746.7 1715.0M854.6 1754.6L758.2 1660.1M854.6 1754.6L786.7 1715.6M854.6 1754.6L792.8 1698.5M854.6 1754.6L778.0 1661.7M854.6 1754.6L536.9 1609.0M854.6 1754.6L563.8 1624.8M854.6 1754.6L663.8 1800.7M854.6 1754.6L695.7 1708.1M854.6 1754.6L678.8 1699.8M854.6 1754.6L567.2 1700.6M854.6 1754.6L704.4 1737.9M854.6 1754.6L746.7 1715.0M854.6 1754.6L746.1 1827.6M854.6 1754.6L721.1 1756.3M854.6 1754.6L526.9 1745.0M854.6 1754.6L549.4 1735.3M854.6 1754.6L472.5 1716.9M854.6 1754.6L462.9 1695.0M854.6 1754.6L538.2 1777.8M854.6 1754.6L347.8 1724.8M854.6 1754.6L292.2 1807.2M854.6 1754.6L401.0 1669.1M854.6 1754.6L564.8 1892.5M854.6 1754.6L587.0 1871.9M854.6 1754.6L783.0 1863.1M854.6 1754.6L731.9 1900.0M854.6 1754.6L473.8 1515.1M212.9 1808.3L262.9 1800.7M212.9 1808.3L292.2 1807.2M212.9 1808.3L305.7 1787.8M212.9 1808.3L261.5 1838.1M212.9 1808.3L334.4 1706.3M212.9 1808.3L526.9 1745.0M296.4 2007.7L261.5 1838.1M296.4 2007.7L490.7 1605.7M296.4 2007.7L512.5 1586.0M296.4 2007.7L536.9 1609.0M296.4 2007.7L590.1 1615.7M296.4 2007.7L541.1 1631.9M296.4 2007.7L527.3 1661.3M296.4 2007.7L524.2 1455.9M296.4 2007.7L564.2 1508.5M296.4 2007.7L515.1 1483.2M296.4 2007.7L464.4 1417.5M296.4 2007.7L469.1 1481.9M296.4 2007.7L399.1 1569.1M296.4 2007.7L334.4 1706.3M296.4 2007.7L331.6 1755.3M296.4 2007.7L400.1 1801.3M296.4 2007.7L526.9 1745.0M296.4 2007.7L476.3 1749.4M296.4 2007.7L440.1 1763.2M296.4 2007.7L483.2 1817.0M296.4 2007.7L663.8 1800.7M296.4 2007.7L580.1 1754.0M296.4 2007.7L614.9 1871.0M296.4 2007.7L507.5 1974.5M296.4 2007.7L564.8 1892.5M296.4 2007.7L633.6 1971.7M296.4 2007.7L561.1 1852.5M296.4 2007.7L567.6 1878.8M296.4 2007.7L618.9 1991.8M296.4 2007.7L783.0 1863.1M296.4 2007.7L661.9 1912.2M296.4 2007.7L727.6 1874.4M296.4 2007.7L769.5 1859.4M296.4 2007.7L713.8 1873.8M296.4 2007.7L704.4 1737.9M296.4 2007.7L746.7 1715.0M296.4 2007.7L371.3 1911.9M785.0 2017.3L534.5 1463.8M785.0 2017.3L552.0 1466.3M785.0 2017.3L567.5 1498.8M785.0 2017.3L563.2 1494.4M785.0 2017.3L557.5 1503.2M785.0 2017.3L536.9 1609.0M785.0 2017.3L542.8 1536.9M785.0 2017.3L480.3 1578.8M785.0 2017.3L490.7 1605.7M785.0 2017.3L413.5 1762.8M785.0 2017.3L262.9 1800.7M785.0 2017.3L418.5 1748.4M785.0 2017.3L262.3 1674.5M785.0 2017.3L396.7 1715.0M785.0 2017.3L351.3 1752.9M785.0 2017.3L526.9 1745.0M785.0 2017.3L480.0 1749.4M785.0 2017.3L526.7 1757.3M785.0 2017.3L546.9 1777.8M785.0 2017.3L495.7 1705.0M785.0 2017.3L479.4 1830.1M785.0 2017.3L695.7 1708.1M785.0 2017.3L663.8 1800.7M785.0 2017.3L670.0 1819.5M785.0 2017.3L626.4 1756.3M785.0 2017.3L746.7 1715.0M785.0 2017.3L723.8 1830.1M785.0 2017.3L520.7 1840.0M785.0 2017.3L614.9 1871.0M785.0 2017.3L564.8 1892.5M785.0 2017.3L638.9 1893.8M785.0 2017.3L567.6 1878.8M785.0 2017.3L783.0 1863.1M785.0 2017.3L661.9 1912.2M785.0 2017.3L758.8 1839.4M785.0 2017.3L712.5 1907.5M785.0 2017.3L746.7 1715.0M785.0 2017.3L391.7 1921.3M785.0 2017.3L464.4 1417.5M785.0 2017.3L399.1 1569.1" stroke="#e8476d" stroke-opacity="0.36" stroke-width="0.85" fill="none"/>
<g fill="#e0e0e0" stroke="#333" stroke-width="0.6"><circle cx="499.2" cy="1812.4" r="7.35"/><circle cx="475.7" cy="1804.9" r="7.35"/><circle cx="489.8" cy="1772.0" r="7.35"/><circle cx="533.5" cy="1783.3" r="7.35"/><circle cx="495.9" cy="1801.3" r="7.35"/><circle cx="524.4" cy="1779.2" r="7.35"/><circle cx="511.3" cy="1754.0" r="7.35"/><circle cx="487.0" cy="1766.9" r="7.35"/><circle cx="472.3" cy="1749.3" r="7.35"/><circle cx="462.9" cy="1774.5" r="7.35"/><circle cx="492.2" cy="1770.2" r="7.35"/><circle cx="498.6" cy="1746.2" r="7.35"/><circle cx="494.8" cy="1787.3" r="7.35"/><circle cx="515.3" cy="1757.4" r="7.35"/><circle cx="489.7" cy="1739.5" r="7.35"/><circle cx="488.4" cy="1738.8" r="7.35"/><circle cx="468.7" cy="1804.1" r="7.35"/><circle cx="460.6" cy="1794.5" r="7.35"/><circle cx="506.0" cy="1770.5" r="7.35"/><circle cx="509.2" cy="1795.5" r="7.35"/><circle cx="522.8" cy="1773.7" r="7.35"/><circle cx="481.6" cy="1762.8" r="7.35"/><circle cx="472.2" cy="1778.8" r="7.35"/><circle cx="478.9" cy="1807.1" r="7.35"/><circle cx="710.8" cy="1854.7" r="7.35"/><circle cx="726.8" cy="1840.4" r="7.35"/><circle cx="765.4" cy="1843.9" r="7.35"/><circle cx="734.7" cy="1859.2" r="7.35"/><circle cx="765.9" cy="1844.8" r="7.35"/><circle cx="765.7" cy="1856.7" r="7.35"/><circle cx="738.1" cy="1855.9" r="7.35"/><circle cx="756.1" cy="1848.2" r="7.35"/><circle cx="739.9" cy="1880.9" r="7.35"/><circle cx="765.0" cy="1843.6" r="7.35"/><circle cx="770.9" cy="1889.0" r="7.35"/><circle cx="729.5" cy="1879.5" r="7.35"/><circle cx="732.9" cy="1902.4" r="7.35"/><circle cx="747.6" cy="1866.6" r="7.35"/><circle cx="735.9" cy="1867.0" r="7.35"/><circle cx="737.7" cy="1851.7" r="7.35"/><circle cx="769.6" cy="1847.7" r="7.35"/><circle cx="704.1" cy="1870.8" r="7.35"/><circle cx="586.5" cy="1863.2" r="7.35"/><circle cx="585.1" cy="1855.9" r="7.35"/><circle cx="597.0" cy="1870.1" r="7.35"/><circle cx="579.7" cy="1852.9" r="7.35"/><circle cx="620.6" cy="1862.9" r="7.35"/><circle cx="577.0" cy="1876.0" r="7.35"/><circle cx="606.6" cy="1850.6" r="7.35"/><circle cx="566.2" cy="1861.6" r="7.35"/></g>
<g fill="#da262a" stroke="#5a1013" stroke-width="0.5"><circle cx="543.2" cy="1477.3" r="7.4"/><circle cx="400.1" cy="1801.3" r="7.4"/><circle cx="374.5" cy="1769.1" r="7.4"/><circle cx="418.5" cy="1748.4" r="7.4"/><circle cx="534.5" cy="1463.8" r="7.4"/><circle cx="614.9" cy="1871.0" r="7.4"/><circle cx="567.5" cy="1498.8" r="7.4"/><circle cx="526.9" cy="1745.0" r="7.4"/><circle cx="507.5" cy="1974.5" r="7.4"/><circle cx="783.0" cy="1863.1" r="7.4"/></g>
<g fill="#e0e0e0" stroke="#333" stroke-width="0.6"><circle cx="756.9" cy="1910.7" r="7.35"/><circle cx="715.0" cy="1896.3" r="7.35"/><circle cx="633.2" cy="1906.3" r="7.35"/><circle cx="493.8" cy="1770.1" r="7.35"/><circle cx="578.6" cy="1852.9" r="7.35"/><circle cx="419.4" cy="1525.7" r="7.35"/><circle cx="526.7" cy="1757.3" r="7.35"/><circle cx="351.3" cy="1752.9" r="7.35"/><circle cx="517.5" cy="1792.6" r="7.35"/><circle cx="717.5" cy="1841.3" r="7.35"/><circle cx="458.1" cy="1769.4" r="7.35"/><circle cx="448.1" cy="1660.3" r="7.35"/><circle cx="399.1" cy="1569.1" r="7.35"/><circle cx="832.6" cy="1884.4" r="7.35"/><circle cx="435.0" cy="1527.6" r="7.35"/><circle cx="346.1" cy="1662.8" r="7.35"/><circle cx="573.0" cy="1729.0" r="7.35"/><circle cx="410.0" cy="1489.8" r="7.35"/><circle cx="563.2" cy="1556.3" r="7.35"/><circle cx="456.9" cy="1474.4" r="7.35"/><circle cx="700.0" cy="1884.4" r="7.35"/><circle cx="466.9" cy="1806.3" r="7.35"/><circle cx="730.1" cy="1875.3" r="7.35"/><circle cx="491.9" cy="1822.6" r="7.35"/><circle cx="608.0" cy="1941.7" r="7.35"/><circle cx="713.8" cy="1873.8" r="7.35"/><circle cx="580.1" cy="1754.0" r="7.35"/><circle cx="392.3" cy="1740.0" r="7.35"/><circle cx="688.2" cy="1847.9" r="7.35"/><circle cx="289.0" cy="1780.7" r="7.35"/><circle cx="607.6" cy="1549.4" r="7.35"/><circle cx="723.8" cy="1830.1" r="7.35"/><circle cx="521.3" cy="1798.2" r="7.35"/><circle cx="530.9" cy="1715.6" r="7.35"/><circle cx="557.9" cy="1843.5" r="7.35"/><circle cx="516.7" cy="1711.3" r="7.35"/><circle cx="466.9" cy="1792.3" r="7.35"/><circle cx="587.0" cy="1871.9" r="7.35"/><circle cx="536.7" cy="1457.5" r="7.35"/><circle cx="487.5" cy="1738.8" r="7.35"/><circle cx="272.8" cy="1705.6" r="7.35"/><circle cx="738.8" cy="1837.5" r="7.35"/><circle cx="542.9" cy="1866.6" r="7.35"/><circle cx="729.8" cy="1920.1" r="7.35"/><circle cx="778.0" cy="1661.7" r="7.35"/><circle cx="491.3" cy="1803.6" r="7.35"/><circle cx="516.3" cy="1823.2" r="7.35"/><circle cx="575.7" cy="1546.9" r="7.35"/><circle cx="528.2" cy="1781.9" r="7.35"/><circle cx="782.0" cy="1871.9" r="7.35"/><circle cx="513.2" cy="1512.8" r="7.35"/><circle cx="792.8" cy="1698.5" r="7.35"/><circle cx="377.6" cy="1881.0" r="7.35"/><circle cx="495.7" cy="1705.0" r="7.35"/><circle cx="478.1" cy="1630.7" r="7.35"/><circle cx="364.5" cy="1773.2" r="7.35"/><circle cx="763.2" cy="1886.3" r="7.35"/><circle cx="601.7" cy="1868.1" r="7.35"/><circle cx="676.9" cy="1923.2" r="7.35"/><circle cx="382.9" cy="1508.5" r="7.35"/><circle cx="595.5" cy="1851.0" r="7.35"/><circle cx="394.7" cy="1729.8" r="7.35"/><circle cx="415.1" cy="1830.1" r="7.35"/><circle cx="797.0" cy="1822.6" r="7.35"/><circle cx="663.8" cy="1766.9" r="7.35"/><circle cx="401.6" cy="1935.3" r="7.35"/><circle cx="786.7" cy="1715.6" r="7.35"/><circle cx="793.2" cy="1934.1" r="7.35"/><circle cx="479.7" cy="1462.8" r="7.35"/><circle cx="424.1" cy="1604.0" r="7.35"/><circle cx="517.5" cy="1631.9" r="7.35"/><circle cx="567.2" cy="1700.6" r="7.35"/><circle cx="455.1" cy="1463.8" r="7.35"/><circle cx="620.7" cy="1884.0" r="7.35"/><circle cx="485.0" cy="1795.7" r="7.35"/><circle cx="391.7" cy="1921.3" r="7.35"/><circle cx="448.1" cy="1591.9" r="7.35"/><circle cx="414.0" cy="1438.5" r="7.35"/><circle cx="626.4" cy="1872.5" r="7.35"/><circle cx="640.1" cy="1851.9" r="7.35"/><circle cx="674.4" cy="1735.7" r="7.35"/><circle cx="769.5" cy="1859.4" r="7.35"/><circle cx="567.6" cy="1878.8" r="7.35"/><circle cx="638.9" cy="1893.8" r="7.35"/><circle cx="665.6" cy="1884.4" r="7.35"/><circle cx="489.2" cy="1447.8" r="7.35"/><circle cx="664.4" cy="1782.8" r="7.35"/><circle cx="747.6" cy="1885.0" r="7.35"/><circle cx="387.8" cy="1771.9" r="7.35"/><circle cx="576.0" cy="1868.8" r="7.35"/><circle cx="433.8" cy="1489.8" r="7.35"/><circle cx="561.3" cy="1960.1" r="7.35"/><circle cx="514.4" cy="1777.6" r="7.35"/><circle cx="342.9" cy="1837.5" r="7.35"/><circle cx="595.5" cy="1843.8" r="7.35"/><circle cx="359.2" cy="1742.2" r="7.35"/><circle cx="623.9" cy="1732.5" r="7.35"/><circle cx="619.5" cy="1766.9" r="7.35"/><circle cx="515.1" cy="1483.2" r="7.35"/><circle cx="512.9" cy="1964.5" r="7.35"/><circle cx="673.8" cy="1894.0" r="7.35"/><circle cx="635.1" cy="1918.2" r="7.35"/><circle cx="438.2" cy="1601.3" r="7.35"/><circle cx="658.8" cy="1929.8" r="7.35"/><circle cx="606.1" cy="1804.7" r="7.35"/><circle cx="727.6" cy="1874.4" r="7.35"/><circle cx="384.5" cy="1864.8" r="7.35"/><circle cx="741.3" cy="1837.5" r="7.35"/><circle cx="352.9" cy="1708.8" r="7.35"/><circle cx="576.3" cy="1598.8" r="7.35"/><circle cx="563.8" cy="1484.4" r="7.35"/><circle cx="590.1" cy="1569.0" r="7.35"/><circle cx="479.4" cy="1740.0" r="7.35"/><circle cx="409.7" cy="1469.8" r="7.35"/><circle cx="760.5" cy="1932.3" r="7.35"/><circle cx="420.1" cy="1917.3" r="7.35"/><circle cx="505.9" cy="1922.6" r="7.35"/><circle cx="534.4" cy="1736.3" r="7.35"/><circle cx="551.7" cy="1818.8" r="7.35"/><circle cx="770.7" cy="1903.2" r="7.35"/><circle cx="658.8" cy="1874.4" r="7.35"/><circle cx="546.3" cy="1722.3" r="7.35"/><circle cx="536.9" cy="1814.5" r="7.35"/><circle cx="519.0" cy="1675.1" r="7.35"/><circle cx="536.9" cy="1760.7" r="7.35"/><circle cx="453.8" cy="1509.5" r="7.35"/><circle cx="435.7" cy="1905.7" r="7.35"/><circle cx="346.3" cy="1770.3" r="7.35"/><circle cx="527.3" cy="1661.3" r="7.35"/><circle cx="494.8" cy="1564.0" r="7.35"/><circle cx="515.1" cy="1467.6" r="7.35"/><circle cx="523.2" cy="1926.9" r="7.35"/><circle cx="392.5" cy="1457.5" r="7.35"/><circle cx="509.7" cy="1897.5" r="7.35"/><circle cx="838.2" cy="1895.0" r="7.35"/><circle cx="706.3" cy="1871.9" r="7.35"/><circle cx="564.8" cy="1571.3" r="7.35"/><circle cx="746.1" cy="1827.6" r="7.35"/><circle cx="405.1" cy="1920.7" r="7.35"/><circle cx="438.9" cy="1886.9" r="7.35"/><circle cx="485.9" cy="1949.2" r="7.35"/><circle cx="355.1" cy="1787.8" r="7.35"/><circle cx="438.9" cy="1541.3" r="7.35"/><circle cx="465.0" cy="1738.2" r="7.35"/><circle cx="347.3" cy="1686.3" r="7.35"/><circle cx="774.2" cy="1886.9" r="7.35"/><circle cx="448.1" cy="1736.9" r="7.35"/><circle cx="387.0" cy="1933.2" r="7.35"/><circle cx="762.6" cy="1841.9" r="7.35"/><circle cx="472.5" cy="1936.9" r="7.35"/><circle cx="563.8" cy="1624.8" r="7.35"/><circle cx="790.7" cy="1914.8" r="7.35"/><circle cx="743.2" cy="1862.5" r="7.35"/><circle cx="426.3" cy="1428.5" r="7.35"/><circle cx="569.7" cy="1773.2" r="7.35"/><circle cx="452.6" cy="1488.8" r="7.35"/><circle cx="374.7" cy="1799.8" r="7.35"/><circle cx="700.0" cy="1856.9" r="7.35"/><circle cx="496.9" cy="1780.7" r="7.35"/><circle cx="468.8" cy="1780.7" r="7.35"/><circle cx="289.0" cy="1822.6" r="7.35"/><circle cx="396.7" cy="1715.0" r="7.35"/><circle cx="575.7" cy="1830.1" r="7.35"/><circle cx="420.5" cy="1872.9" r="7.35"/><circle cx="530.1" cy="1520.1" r="7.35"/><circle cx="476.3" cy="1761.3" r="7.35"/><circle cx="395.1" cy="1698.8" r="7.35"/><circle cx="760.1" cy="1818.6" r="7.35"/><circle cx="710.7" cy="1844.4" r="7.35"/><circle cx="392.9" cy="1518.8" r="7.35"/><circle cx="660.6" cy="1895.7" r="7.35"/><circle cx="480.3" cy="1578.8" r="7.35"/><circle cx="577.0" cy="1563.8" r="7.35"/><circle cx="438.9" cy="1846.3" r="7.35"/><circle cx="441.7" cy="1468.8" r="7.35"/><circle cx="526.7" cy="1775.1" r="7.35"/><circle cx="579.1" cy="1651.6" r="7.35"/><circle cx="442.2" cy="1427.3" r="7.35"/><circle cx="751.9" cy="1898.2" r="7.35"/><circle cx="481.7" cy="1898.8" r="7.35"/><circle cx="419.2" cy="1518.8" r="7.35"/><circle cx="437.6" cy="1582.5" r="7.35"/><circle cx="550.0" cy="1486.3" r="7.35"/><circle cx="636.4" cy="1775.7" r="7.35"/><circle cx="736.9" cy="1906.9" r="7.35"/><circle cx="476.3" cy="1697.9" r="7.35"/><circle cx="515.5" cy="1496.6" r="7.35"/><circle cx="549.4" cy="1735.3" r="7.35"/><circle cx="638.9" cy="1736.9" r="7.35"/><circle cx="316.3" cy="1864.8" r="7.35"/><circle cx="808.2" cy="1931.9" r="7.35"/><circle cx="381.7" cy="1787.3" r="7.35"/><circle cx="405.7" cy="1526.3" r="7.35"/><circle cx="457.5" cy="1791.9" r="7.35"/><circle cx="611.1" cy="1709.8" r="7.35"/><circle cx="493.8" cy="1621.7" r="7.35"/><circle cx="678.8" cy="1699.8" r="7.35"/><circle cx="741.9" cy="1860.0" r="7.35"/><circle cx="552.6" cy="1691.0" r="7.35"/><circle cx="497.0" cy="1527.6" r="7.35"/><circle cx="495.0" cy="1755.0" r="7.35"/><circle cx="479.4" cy="1830.1" r="7.35"/><circle cx="523.2" cy="1564.4" r="7.35"/><circle cx="518.2" cy="1868.8" r="7.35"/><circle cx="712.5" cy="1907.5" r="7.35"/><circle cx="723.6" cy="1810.7" r="7.35"/><circle cx="501.9" cy="1748.8" r="7.35"/><circle cx="420.5" cy="1737.8" r="7.35"/><circle cx="493.0" cy="1413.1" r="7.35"/><circle cx="401.0" cy="1669.1" r="7.35"/><circle cx="729.8" cy="1774.4" r="7.35"/><circle cx="418.9" cy="1658.8" r="7.35"/><circle cx="437.6" cy="1724.4" r="7.35"/><circle cx="602.0" cy="1740.3" r="7.35"/><circle cx="306.3" cy="1722.3" r="7.35"/><circle cx="758.8" cy="1839.4" r="7.35"/><circle cx="635.1" cy="1748.2" r="7.35"/><circle cx="785.1" cy="1896.0" r="7.35"/><circle cx="470.1" cy="1517.6" r="7.35"/><circle cx="490.7" cy="1914.8" r="7.35"/><circle cx="454.1" cy="1712.8" r="7.35"/><circle cx="425.7" cy="1588.8" r="7.35"/><circle cx="417.9" cy="1499.8" r="7.35"/><circle cx="606.1" cy="1897.2" r="7.35"/><circle cx="541.1" cy="1631.9" r="7.35"/><circle cx="607.4" cy="1920.1" r="7.35"/><circle cx="532.6" cy="1480.7" r="7.35"/><circle cx="724.1" cy="1850.0" r="7.35"/><circle cx="709.4" cy="1825.7" r="7.35"/><circle cx="384.5" cy="1675.7" r="7.35"/><circle cx="362.2" cy="1904.0" r="7.35"/><circle cx="381.3" cy="1725.3" r="7.35"/><circle cx="551.1" cy="1619.1" r="7.35"/><circle cx="554.1" cy="1634.4" r="7.35"/><circle cx="400.7" cy="1499.8" r="7.35"/><circle cx="721.3" cy="1901.3" r="7.35"/><circle cx="303.2" cy="1848.8" r="7.35"/><circle cx="824.9" cy="1878.2" r="7.35"/><circle cx="478.8" cy="1808.8" r="7.35"/><circle cx="557.5" cy="1503.2" r="7.35"/><circle cx="445.1" cy="1515.1" r="7.35"/><circle cx="371.3" cy="1911.9" r="7.35"/><circle cx="362.3" cy="1888.8" r="7.35"/><circle cx="620.1" cy="1746.3" r="7.35"/><circle cx="506.9" cy="1803.2" r="7.35"/><circle cx="632.6" cy="1880.0" r="7.35"/><circle cx="829.7" cy="1907.9" r="7.35"/><circle cx="416.4" cy="1932.3" r="7.35"/><circle cx="390.7" cy="1800.1" r="7.35"/><circle cx="376.1" cy="1702.3" r="7.35"/><circle cx="505.0" cy="1777.6" r="7.35"/><circle cx="534.4" cy="1792.3" r="7.35"/><circle cx="723.2" cy="1910.1" r="7.35"/><circle cx="515.7" cy="1746.0" r="7.35"/><circle cx="574.0" cy="1513.8" r="7.35"/><circle cx="472.5" cy="1716.9" r="7.35"/><circle cx="449.4" cy="1494.1" r="7.35"/><circle cx="305.9" cy="1649.8" r="7.35"/><circle cx="292.5" cy="1729.0" r="7.35"/><circle cx="430.4" cy="1506.6" r="7.35"/><circle cx="476.3" cy="1496.6" r="7.35"/><circle cx="330.3" cy="1827.0" r="7.35"/><circle cx="290.7" cy="1657.8" r="7.35"/><circle cx="438.2" cy="1398.8" r="7.35"/><circle cx="476.3" cy="1749.4" r="7.35"/><circle cx="638.9" cy="1795.1" r="7.35"/><circle cx="404.9" cy="1743.8" r="7.35"/><circle cx="431.4" cy="1923.6" r="7.35"/><circle cx="367.6" cy="1873.2" r="7.35"/><circle cx="572.0" cy="1891.9" r="7.35"/><circle cx="577.0" cy="1881.3" r="7.35"/><circle cx="495.0" cy="1650.7" r="7.35"/><circle cx="747.3" cy="1877.5" r="7.35"/><circle cx="608.2" cy="1857.5" r="7.35"/><circle cx="547.9" cy="1976.3" r="7.35"/><circle cx="511.9" cy="1770.7" r="7.35"/><circle cx="464.4" cy="1605.7" r="7.35"/><circle cx="507.5" cy="1705.6" r="7.35"/><circle cx="796.3" cy="1680.1" r="7.35"/><circle cx="506.9" cy="1810.3" r="7.35"/><circle cx="590.1" cy="1615.7" r="7.35"/><circle cx="539.2" cy="1959.7" r="7.35"/><circle cx="462.3" cy="1492.9" r="7.35"/><circle cx="362.0" cy="1698.1" r="7.35"/><circle cx="618.9" cy="1991.8" r="7.35"/><circle cx="812.4" cy="1916.9" r="7.35"/><circle cx="273.8" cy="1660.1" r="7.35"/><circle cx="440.1" cy="1763.2" r="7.35"/><circle cx="562.2" cy="1655.7" r="7.35"/><circle cx="401.4" cy="1590.0" r="7.35"/><circle cx="546.9" cy="1777.8" r="7.35"/><circle cx="288.4" cy="1745.9" r="7.35"/><circle cx="656.9" cy="1740.0" r="7.35"/><circle cx="426.3" cy="1472.8" r="7.35"/><circle cx="499.4" cy="1788.8" r="7.35"/><circle cx="480.0" cy="1749.4" r="7.35"/><circle cx="614.2" cy="1755.4" r="7.35"/><circle cx="469.1" cy="1481.9" r="7.35"/><circle cx="704.4" cy="1906.9" r="7.35"/><circle cx="349.4" cy="1804.1" r="7.35"/><circle cx="777.0" cy="1849.4" r="7.35"/><circle cx="644.4" cy="1905.7" r="7.35"/><circle cx="721.1" cy="1756.3" r="7.35"/><circle cx="502.3" cy="1756.3" r="7.35"/><circle cx="316.3" cy="1819.1" r="7.35"/><circle cx="538.2" cy="1777.8" r="7.35"/><circle cx="824.9" cy="1925.7" r="7.35"/><circle cx="438.9" cy="1823.8" r="7.35"/><circle cx="433.9" cy="1691.5" r="7.35"/><circle cx="535.1" cy="1470.1" r="7.35"/><circle cx="756.9" cy="1897.5" r="7.35"/><circle cx="391.3" cy="1530.1" r="7.35"/><circle cx="758.2" cy="1660.1" r="7.35"/><circle cx="388.2" cy="1883.8" r="7.35"/><circle cx="556.9" cy="1756.9" r="7.35"/><circle cx="561.7" cy="1870.3" r="7.35"/><circle cx="463.8" cy="1528.8" r="7.35"/><circle cx="383.8" cy="1648.6" r="7.35"/><circle cx="696.3" cy="1876.3" r="7.35"/><circle cx="468.1" cy="1674.5" r="7.35"/><circle cx="500.0" cy="1726.0" r="7.35"/><circle cx="361.1" cy="1716.9" r="7.35"/><circle cx="588.2" cy="1633.2" r="7.35"/><circle cx="731.9" cy="1900.0" r="7.35"/><circle cx="552.6" cy="1477.6" r="7.35"/><circle cx="481.0" cy="1777.8" r="7.35"/><circle cx="430.9" cy="1456.5" r="7.35"/><circle cx="574.1" cy="1715.4" r="7.35"/><circle cx="464.0" cy="1561.3" r="7.35"/><circle cx="565.7" cy="1885.7" r="7.35"/><circle cx="723.2" cy="1863.8" r="7.35"/><circle cx="396.6" cy="1482.6" r="7.35"/><circle cx="449.8" cy="1778.4" r="7.35"/><circle cx="561.1" cy="1852.5" r="7.35"/><circle cx="390.1" cy="1539.4" r="7.35"/><circle cx="375.1" cy="1924.4" r="7.35"/><circle cx="710.7" cy="1885.7" r="7.35"/><circle cx="365.1" cy="1676.3" r="7.35"/><circle cx="262.3" cy="1674.5" r="7.35"/><circle cx="257.5" cy="1696.9" r="7.35"/><circle cx="385.1" cy="1910.1" r="7.35"/><circle cx="505.7" cy="1955.1" r="7.35"/><circle cx="567.0" cy="1786.9" r="7.35"/><circle cx="304.0" cy="1739.4" r="7.35"/><circle cx="465.9" cy="1860.0" r="7.35"/><circle cx="573.0" cy="1916.6" r="7.35"/><circle cx="483.2" cy="1817.0" r="7.35"/><circle cx="540.7" cy="1909.4" r="7.35"/><circle cx="305.7" cy="1765.7" r="7.35"/><circle cx="542.8" cy="1536.9" r="7.35"/><circle cx="765.1" cy="1878.2" r="7.35"/><circle cx="749.8" cy="1691.9" r="7.35"/><circle cx="422.6" cy="1702.8" r="7.35"/><circle cx="563.2" cy="1494.4" r="7.35"/><circle cx="375.1" cy="1896.9" r="7.35"/><circle cx="670.0" cy="1819.5" r="7.35"/><circle cx="462.9" cy="1695.0" r="7.35"/><circle cx="577.3" cy="1472.8" r="7.35"/><circle cx="583.8" cy="1904.8" r="7.35"/><circle cx="645.6" cy="1916.9" r="7.35"/><circle cx="461.3" cy="1769.4" r="7.35"/><circle cx="602.6" cy="1785.1" r="7.35"/><circle cx="820.5" cy="1901.0" r="7.35"/><circle cx="317.8" cy="1691.9" r="7.35"/><circle cx="470.4" cy="1753.2" r="7.35"/><circle cx="626.4" cy="1756.3" r="7.35"/><circle cx="513.8" cy="1611.3" r="7.35"/><circle cx="414.9" cy="1729.0" r="7.35"/><circle cx="690.0" cy="1774.8" r="7.35"/><circle cx="476.3" cy="1817.0" r="7.35"/><circle cx="591.3" cy="1865.0" r="7.35"/><circle cx="280.0" cy="1679.5" r="7.35"/><circle cx="590.7" cy="1841.0" r="7.35"/><circle cx="329.2" cy="1779.8" r="7.35"/><circle cx="780.7" cy="1677.6" r="7.35"/><circle cx="419.1" cy="1544.8" r="7.35"/><circle cx="347.6" cy="1680.1" r="7.35"/><circle cx="738.2" cy="1927.3" r="7.35"/></g>
<g fill="#da262a" stroke="#5a1013" stroke-width="0.5"><circle cx="473.8" cy="1515.1" r="7.4"/><circle cx="661.9" cy="1912.2" r="7.4"/><circle cx="704.4" cy="1737.9" r="7.4"/><circle cx="528.6" cy="1978.8" r="7.4"/><circle cx="500.4" cy="1843.5" r="7.4"/><circle cx="536.9" cy="1609.0" r="7.4"/><circle cx="413.5" cy="1762.8" r="7.4"/><circle cx="524.2" cy="1455.9" r="7.4"/><circle cx="292.2" cy="1807.2" r="7.4"/><circle cx="305.7" cy="1787.8" r="7.4"/><circle cx="334.4" cy="1706.3" r="7.4"/><circle cx="746.7" cy="1715.0" r="7.4"/><circle cx="633.6" cy="1971.7" r="7.4"/><circle cx="553.2" cy="1522.6" r="7.4"/><circle cx="331.6" cy="1755.3" r="7.4"/><circle cx="552.0" cy="1466.3" r="7.4"/><circle cx="663.8" cy="1800.7" r="7.4"/><circle cx="543.0" cy="1494.1" r="7.4"/><circle cx="347.8" cy="1724.8" r="7.4"/><circle cx="536.7" cy="1507.8" r="7.4"/><circle cx="520.7" cy="1840.0" r="7.4"/><circle cx="564.2" cy="1508.5" r="7.4"/><circle cx="261.5" cy="1838.1" r="7.4"/><circle cx="262.9" cy="1800.7" r="7.4"/><circle cx="428.2" cy="1641.1" r="7.4"/><circle cx="464.4" cy="1417.5" r="7.4"/><circle cx="366.6" cy="1756.5" r="7.4"/><circle cx="564.8" cy="1892.5" r="7.4"/><circle cx="695.7" cy="1708.1" r="7.4"/></g>
<circle cx="490.7" cy="1605.7" r="16.6" fill="#e62555" stroke="#000" stroke-width="0.9"/>
<circle cx="493.8" cy="1621.7" r="7.35" fill="#e0e0e0" stroke="#333" stroke-width="0.6"/>
<circle cx="513.8" cy="1611.3" r="7.35" fill="#e0e0e0" stroke="#333" stroke-width="0.6"/>
<circle cx="512.5" cy="1586.0" r="17" fill="#e62555" stroke="#000" stroke-width="0.9"/>
<circle cx="535.3" cy="1357.7" r="3.5" fill="#e0262c"/>
<circle cx="283.5" cy="1557.8" r="3.5" fill="#e0262c"/>
<circle cx="717.3" cy="1527.5" r="3.5" fill="#e0262c"/>
<circle cx="854.6" cy="1754.6" r="3.5" fill="#e0262c"/>
<circle cx="212.9" cy="1808.3" r="3.5" fill="#e0262c"/>
<circle cx="296.4" cy="2007.7" r="3.5" fill="#e0262c"/>
<circle cx="785.0" cy="2017.3" r="3.5" fill="#e0262c"/>
<rect x="469.4" y="1533.5" width="152.1" height="134" fill="none" stroke="#56b4dc" stroke-width="2.7"/>
<text x="411.2" y="1344.3" font-size="25" text-anchor="start">Optic nerve diseases</text>
<text x="734.5" y="1529.7" font-size="25" text-anchor="start">Pregnancy complications</text>
<text x="27.3" y="1555.3" font-size="25" text-anchor="start">Macular degeneration</text>
<text x="870.4" y="1763" font-size="25" text-anchor="start">Virus diseases</text>
<text x="1.2" y="1813.8" font-size="25" text-anchor="start">Testicular disease</text>
<text x="81.5" y="2031.5" font-size="25" text-anchor="start">Congenital abnormalities</text>
<text x="732.3" y="2045.5" font-size="25" text-anchor="start">Brain diseases</text>
</g>
<g id="pf">
<path d="M1348.2 1668.4L1157.8 1699.8M1348.2 1668.4L1192.5 1633.7M1348.2 1668.4L1247.8 1582.5M1348.2 1668.4L1413.9 1616.2M1348.2 1668.4L1450.0 1658.3M1348.2 1668.4L1445.3 1705.5M1322.3 1700.1L1157.8 1699.8M1322.3 1700.1L1192.5 1633.7M1322.3 1700.1L1247.8 1582.5M1322.3 1700.1L1413.9 1616.2M1322.3 1700.1L1450.0 1658.3M1322.3 1700.1L1445.3 1705.5M1356.6 1708.9L1157.8 1699.8M1356.6 1708.9L1192.5 1633.7M1356.6 1708.9L1247.8 1582.5M1356.6 1708.9L1413.9 1616.2M1356.6 1708.9L1450.0 1658.3M1356.6 1708.9L1445.3 1705.5M1380.2 1683.3L1157.8 1699.8M1380.2 1683.3L1192.5 1633.7M1380.2 1683.3L1247.8 1582.5M1380.2 1683.3L1413.9 1616.2M1380.2 1683.3L1450.0 1658.3M1380.2 1683.3L1445.3 1705.5M1414.6 1524.2L1157.8 1699.8M1414.6 1524.2L1494.8 1487.8M1450.3 1538.3L1157.8 1699.8M1450.3 1538.3L1494.8 1487.8M1412.3 1480.3L1157.8 1699.8M1412.3 1480.3L1494.8 1487.8M1381.9 1504.6L1157.8 1699.8M1381.9 1504.6L1494.8 1487.8M1382.9 1544.4L1157.8 1699.8M1382.9 1544.4L1494.8 1487.8M1275.7 1526.9L1157.8 1699.8M1275.7 1526.9L1494.8 1487.8" stroke="#93cfe6" stroke-opacity="0.42" stroke-width="3" fill="none"/>
<circle cx="1412.3" cy="1480.3" r="18.4" fill="#f9d0d0" stroke="#c96d75" stroke-width="3.2"/>
<circle cx="1494.8" cy="1487.8" r="18.3" fill="#b3e0e6" stroke="#3fa2ad" stroke-width="3.1"/>
<circle cx="1381.9" cy="1504.6" r="18.4" fill="#f9d0d0" stroke="#c96d75" stroke-width="3.2"/>
<circle cx="1450.3" cy="1538.3" r="18.4" fill="#f9d0d0" stroke="#c96d75" stroke-width="3.2"/>
<circle cx="1414.6" cy="1524.2" r="18.4" fill="#f9d0d0" stroke="#c96d75" stroke-width="3.2"/>
<circle cx="1382.9" cy="1544.4" r="18.4" fill="#f9d0d0" stroke="#c96d75" stroke-width="3.2"/>
<circle cx="1275.7" cy="1526.9" r="18.4" fill="#f9d0d0" stroke="#c96d75" stroke-width="3.2"/>
<circle cx="1157.8" cy="1699.8" r="18.3" fill="#b3e0e6" stroke="#3fa2ad" stroke-width="3.1"/>
<circle cx="1413.9" cy="1616.2" r="18.3" fill="#b3e0e6" stroke="#3fa2ad" stroke-width="3.1"/>
<circle cx="1450.0" cy="1658.3" r="18.3" fill="#b3e0e6" stroke="#3fa2ad" stroke-width="3.1"/>
<circle cx="1445.3" cy="1705.5" r="18.3" fill="#b3e0e6" stroke="#3fa2ad" stroke-width="3.1"/>
<circle cx="1322.3" cy="1700.1" r="18.4" fill="#f9d0d0" stroke="#c96d75" stroke-width="3.2"/>
<circle cx="1380.2" cy="1683.3" r="18.4" fill="#f9d0d0" stroke="#c96d75" stroke-width="3.2"/>
<circle cx="1348.2" cy="1668.4" r="18.4" fill="#f9d0d0" stroke="#c96d75" stroke-width="3.2"/>
<circle cx="1356.6" cy="1708.9" r="18.4" fill="#f9d0d0" stroke="#c96d75" stroke-width="3.2"/>
<circle cx="1247.8" cy="1582.5" r="18.6" fill="#e62555" stroke="#000" stroke-width="3.3"/>
<circle cx="1192.5" cy="1633.7" r="18.6" fill="#e62555" stroke="#000" stroke-width="3.3"/>
<text x="1377.9" y="1476.3" font-size="18.7" letter-spacing="-0.7">SMPD3</text>
<text x="1440.5" y="1494.5" font-size="19" letter-spacing="0.65">Sphingomyelin</text>
<text x="1323.5" y="1505.5" font-size="18.7" letter-spacing="-0.7">SMPD4</text>
<text x="1402.5" y="1528" font-size="18.7" letter-spacing="-0.7">SMPD1</text>
<text x="1451" y="1556" font-size="18.7" letter-spacing="-0.7">SMPD2</text>
<text x="1350" y="1557" font-size="18.7" letter-spacing="-0.7">SGMS1</text>
<text x="1249.5" y="1534.5" font-size="18.7" letter-spacing="-0.7">ENPP7</text>
<text x="1134" y="1559" font-size="19" letter-spacing="0.65">Sphinganine</text>
<text x="1102" y="1610.5" font-size="19" letter-spacing="0.65">Sphingosine</text>
<text x="1114" y="1706" font-size="19" letter-spacing="0.65">Ceramide</text>
<text x="1347.5" y="1619.5" font-size="19" letter-spacing="0.65">Phytosphingosine</text>
<text x="1430" y="1661.5" font-size="19" letter-spacing="0.65">Phytoceramide</text>
<text x="1420" y="1712" font-size="19" letter-spacing="0.65">Dihydroceramide</text>
<text x="1293" y="1672" font-size="18.7" letter-spacing="-0.3">ASAH1</text>
<text x="1360" y="1688" font-size="18.7" letter-spacing="-0.3">ASAH3L</text>
<text x="1264" y="1716" font-size="18.7" letter-spacing="-0.3">ASAH2</text>
<text x="1349.5" y="1726" font-size="18.7" letter-spacing="-0.3">ASAH3</text>
<rect x="1087.3" y="1438.4" width="510.3" height="312.3" fill="none" stroke="#56b4dc" stroke-width="3.3"/>
</g>
</svg></body></html>
